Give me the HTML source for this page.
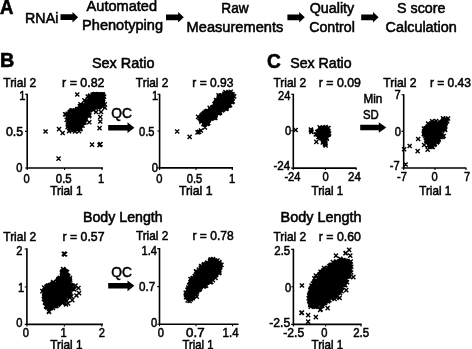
<!DOCTYPE html>
<html><head><meta charset="utf-8"><title>Figure</title>
<style>html,body{margin:0;padding:0;background:#fff;overflow:hidden}svg{display:block;filter:grayscale(1)}text{font-family:"Liberation Sans",Arial,Helvetica,sans-serif;fill:#000;stroke:#000;stroke-width:.55px}.b{font-weight:bold;stroke-width:.6px}</style></head><body>
<svg width="472" height="349" viewBox="0 0 472 349">
<rect width="472" height="349" fill="#fff"/>
<text transform="translate(0.10 14.20) scale(0.928 1)" font-size="20" class="b">A</text>
<text transform="translate(0.10 67.40) scale(0.990 1)" font-size="20" class="b">B</text>
<text transform="translate(266.90 67.60) scale(0.956 1)" font-size="20" class="b">C</text>
<text transform="translate(25.08 22.90) scale(0.969 1)" font-size="14.7">RNAi</text>
<polygon points="60.5,14.35 72.5,14.35 72.5,12.0 78.1,17.2 72.5,22.4 72.5,20.05 60.5,20.05" fill="#000"/>
<text transform="translate(86.57 11.40) scale(0.992 1)" font-size="14.7">Automated</text>
<text transform="translate(82.07 29.90) scale(0.992 1)" font-size="14.7">Phenotyping</text>
<polygon points="166,14.450000000000001 178.20000000000002,14.450000000000001 178.20000000000002,12.100000000000001 183.8,17.3 178.20000000000002,22.5 178.20000000000002,20.150000000000002 166,20.150000000000002" fill="#000"/>
<text transform="translate(221.28 13.10) scale(0.932 1)" font-size="14.7">Raw</text>
<text transform="translate(186.58 31.80) scale(0.995 1)" font-size="14.7">Measurements</text>
<polygon points="287.4,14.450000000000001 299.2,14.450000000000001 299.2,12.100000000000001 304.8,17.3 299.2,22.5 299.2,20.150000000000002 287.4,20.150000000000002" fill="#000"/>
<text transform="translate(309.67 13.30) scale(0.974 1)" font-size="14.7">Quality</text>
<text transform="translate(309.17 31.80) scale(0.965 1)" font-size="14.7">Control</text>
<polygon points="361.2,14.450000000000001 373.0,14.450000000000001 373.0,12.100000000000001 378.6,17.3 373.0,22.5 373.0,20.150000000000002 361.2,20.150000000000002" fill="#000"/>
<text transform="translate(397.07 13.30) scale(0.972 1)" font-size="14.7">S score</text>
<text transform="translate(385.58 31.80) scale(0.980 1)" font-size="14.7">Calculation</text>
<text transform="translate(91.88 68.30) scale(1.009 1)" font-size="14.3">Sex Ratio</text>
<text transform="translate(290.27 68.30) scale(0.991 1)" font-size="14.3">Sex Ratio</text>
<text transform="translate(82.97 222.20) scale(0.993 1)" font-size="14.3">Body Length</text>
<text transform="translate(280.57 222.30) scale(1.007 1)" font-size="14.3">Body Length</text>
<text transform="translate(3.27 86.90) scale(0.901 1)" font-size="13.3">Trial 2</text>
<text transform="translate(135.87 86.90) scale(0.893 1)" font-size="13.3">Trial 2</text>
<text transform="translate(273.48 86.90) scale(0.898 1)" font-size="13.3">Trial 2</text>
<text transform="translate(383.27 86.60) scale(0.915 1)" font-size="13.3">Trial 2</text>
<text transform="translate(3.27 240.60) scale(0.901 1)" font-size="13.3">Trial 2</text>
<text transform="translate(135.88 240.40) scale(0.887 1)" font-size="13.3">Trial 2</text>
<text transform="translate(273.48 240.60) scale(0.898 1)" font-size="13.3">Trial 2</text>
<text transform="translate(62.07 86.90) scale(0.934 1)" font-size="13.3">r = 0.82</text>
<text transform="translate(192.28 86.80) scale(0.905 1)" font-size="13.3">r = 0.93</text>
<text transform="translate(318.78 86.90) scale(0.927 1)" font-size="13.3">r = 0.09</text>
<text transform="translate(429.88 86.60) scale(0.905 1)" font-size="13.3">r = 0.43</text>
<text transform="translate(62.57 240.60) scale(0.923 1)" font-size="13.3">r = 0.57</text>
<text transform="translate(192.47 240.40) scale(0.907 1)" font-size="13.3">r = 0.78</text>
<text transform="translate(318.78 240.60) scale(0.927 1)" font-size="13.3">r = 0.60</text>
<text transform="translate(111.28 117.70) scale(0.943 1)" font-size="14.6">QC</text>
<polygon points="108.2,124.95 127.5,124.95 127.5,122.3 134.4,127.7 127.5,133.1 127.5,130.45 108.2,130.45" fill="#000"/>
<text transform="translate(111.28 277.40) scale(0.943 1)" font-size="14.6">QC</text>
<polygon points="108.2,283.05 127.5,283.05 127.5,280.40000000000003 134.4,285.8 127.5,291.2 127.5,288.55 108.2,288.55" fill="#000"/>
<text transform="translate(363.47 102.60) scale(0.873 1)" font-size="13.4">Min</text>
<text transform="translate(362.94 118.60) scale(0.850 1)" font-size="13.4">SD</text>
<polygon points="360.2,124.65 378.8,124.65 378.8,122.2 386.3,127.5 378.8,132.8 378.8,130.35 360.2,130.35" fill="#000"/>
<path d="M27.2 93.7V168H103" fill="none" stroke="#000" stroke-width="1.6"/>
<path d="M27.2 168v2M64.6 168v2M102 168v2M27.2 94.3h-2.2M27.2 131.4h-2.2M27.2 168h-2.2" stroke="#000" stroke-width="1.1"/>
<text transform="translate(19.15 100.29) scale(0.850 1)" font-size="13.1">1</text>
<text transform="translate(5.88 136.09) scale(0.947 1)" font-size="13.1">0.5</text>
<text transform="translate(16.35 172.19) scale(0.850 1)" font-size="13.1">0</text>
<text transform="translate(23.60 182.90) scale(0.850 1)" font-size="13.1">0</text>
<text transform="translate(55.77 182.90) scale(0.876 1)" font-size="13.1">0.5</text>
<text transform="translate(98.00 182.90) scale(0.850 1)" font-size="13.1">1</text>
<text transform="translate(50.17 194.70) scale(0.890 1)" font-size="13.3">Trial 1</text>
<polygon points="102.4,94.5 89.6,95.4 87.4,98.4 85.1,102.5 81.7,107.5 78.9,109.7 72.5,109.9 68.6,112.9 67.9,118.6 69.6,124.6 71.1,128.6 77.2,128.6 82.1,127.9 84.4,122.5 85.5,115.4 88.4,111.6 94.5,109.4 101.6,109.1" fill="#000"/>
<rect x="91.5" y="92.1" width="13.6" height="14.5" fill="#000"/>
<path d="M83.1 113.5l4.1 4.1m-4.1 0l4.1 -4.1M66.2 122.4l4.1 4.1m-4.1 0l4.1 -4.1M80.4 123.7l4.1 4.1m-4.1 0l4.1 -4.1M83.6 115.6l4.1 4.1m-4.1 0l4.1 -4.1M82.8 116.5l4.1 4.1m-4.1 0l4.1 -4.1M65.5 115.2l4.1 4.1m-4.1 0l4.1 -4.1M66.2 113.3l4.1 4.1m-4.1 0l4.1 -4.1M70.5 128.0l4.1 4.1m-4.1 0l4.1 -4.1M99.7 98.2l4.1 4.1m-4.1 0l4.1 -4.1M82.1 119.2l4.1 4.1m-4.1 0l4.1 -4.1M65.6 111.8l4.1 4.1m-4.1 0l4.1 -4.1M65.8 115.6l4.1 4.1m-4.1 0l4.1 -4.1M92.0 105.5l4.1 4.1m-4.1 0l4.1 -4.1M80.4 123.5l4.1 4.1m-4.1 0l4.1 -4.1M65.9 120.0l4.1 4.1m-4.1 0l4.1 -4.1M68.1 109.9l4.1 4.1m-4.1 0l4.1 -4.1M88.0 107.9l4.1 4.1m-4.1 0l4.1 -4.1M99.3 93.5l4.1 4.1m-4.1 0l4.1 -4.1M75.5 126.4l4.1 4.1m-4.1 0l4.1 -4.1M97.2 104.0l4.1 4.1m-4.1 0l4.1 -4.1M95.3 92.6l4.1 4.1m-4.1 0l4.1 -4.1M101.0 93.5l4.1 4.1m-4.1 0l4.1 -4.1M85.8 98.1l4.1 4.1m-4.1 0l4.1 -4.1M85.3 109.6l4.1 4.1m-4.1 0l4.1 -4.1M90.5 92.7l4.1 4.1m-4.1 0l4.1 -4.1M73.5 108.9l4.1 4.1m-4.1 0l4.1 -4.1M81.8 102.7l4.1 4.1m-4.1 0l4.1 -4.1M100.0 95.2l4.1 4.1m-4.1 0l4.1 -4.1M66.8 119.2l4.1 4.1m-4.1 0l4.1 -4.1M67.5 110.4l4.1 4.1m-4.1 0l4.1 -4.1M77.8 106.5l4.1 4.1m-4.1 0l4.1 -4.1M75.3 126.9l4.1 4.1m-4.1 0l4.1 -4.1M82.9 117.4l4.1 4.1m-4.1 0l4.1 -4.1M84.9 110.6l4.1 4.1m-4.1 0l4.1 -4.1M100.1 93.9l4.1 4.1m-4.1 0l4.1 -4.1M81.3 120.6l4.1 4.1m-4.1 0l4.1 -4.1M69.9 108.2l4.1 4.1m-4.1 0l4.1 -4.1M88.0 106.2l4.1 4.1m-4.1 0l4.1 -4.1M86.8 110.2l4.1 4.1m-4.1 0l4.1 -4.1M73.0 126.4l4.1 4.1m-4.1 0l4.1 -4.1M91.8 92.9l4.1 4.1m-4.1 0l4.1 -4.1M72.0 127.7l4.1 4.1m-4.1 0l4.1 -4.1M72.7 126.2l4.1 4.1m-4.1 0l4.1 -4.1M95.3 93.1l4.1 4.1m-4.1 0l4.1 -4.1M69.0 108.9l4.1 4.1m-4.1 0l4.1 -4.1M69.4 109.8l4.1 4.1m-4.1 0l4.1 -4.1M83.9 113.9l4.1 4.1m-4.1 0l4.1 -4.1M78.3 125.9l4.1 4.1m-4.1 0l4.1 -4.1M92.9 92.1l4.1 4.1m-4.1 0l4.1 -4.1M87.8 108.2l4.1 4.1m-4.1 0l4.1 -4.1M67.2 125.7l4.1 4.1m-4.1 0l4.1 -4.1M87.8 94.1l4.1 4.1m-4.1 0l4.1 -4.1M66.1 117.0l4.1 4.1m-4.1 0l4.1 -4.1M95.4 104.8l4.1 4.1m-4.1 0l4.1 -4.1M79.9 104.8l4.1 4.1m-4.1 0l4.1 -4.1M94.0 93.1l4.1 4.1m-4.1 0l4.1 -4.1M78.6 105.5l4.1 4.1m-4.1 0l4.1 -4.1M84.6 112.7l4.1 4.1m-4.1 0l4.1 -4.1M95.1 92.6l4.1 4.1m-4.1 0l4.1 -4.1M66.0 115.4l4.1 4.1m-4.1 0l4.1 -4.1M86.6 99.0l4.1 4.1m-4.1 0l4.1 -4.1M99.6 103.7l4.1 4.1m-4.1 0l4.1 -4.1M99.7 93.7l4.1 4.1m-4.1 0l4.1 -4.1M84.6 111.0l4.1 4.1m-4.1 0l4.1 -4.1M81.5 118.6l4.1 4.1m-4.1 0l4.1 -4.1M96.0 93.7l4.1 4.1m-4.1 0l4.1 -4.1M83.3 115.9l4.1 4.1m-4.1 0l4.1 -4.1M70.5 127.8l4.1 4.1m-4.1 0l4.1 -4.1M75.9 127.1l4.1 4.1m-4.1 0l4.1 -4.1M68.0 126.1l4.1 4.1m-4.1 0l4.1 -4.1M84.6 112.4l4.1 4.1m-4.1 0l4.1 -4.1M85.2 100.6l4.1 4.1m-4.1 0l4.1 -4.1M67.5 123.0l4.1 4.1m-4.1 0l4.1 -4.1M70.6 108.7l4.1 4.1m-4.1 0l4.1 -4.1M83.6 100.6l4.1 4.1m-4.1 0l4.1 -4.1M64.7 117.8l4.1 4.1m-4.1 0l4.1 -4.1M83.9 99.6l4.1 4.1m-4.1 0l4.1 -4.1M66.5 121.7l4.1 4.1m-4.1 0l4.1 -4.1M67.6 111.5l4.1 4.1m-4.1 0l4.1 -4.1M78.6 104.3l4.1 4.1m-4.1 0l4.1 -4.1M74.5 126.9l4.1 4.1m-4.1 0l4.1 -4.1M96.5 104.2l4.1 4.1m-4.1 0l4.1 -4.1M81.2 120.0l4.1 4.1m-4.1 0l4.1 -4.1M78.1 127.1l4.1 4.1m-4.1 0l4.1 -4.1M101.1 97.0l4.1 4.1m-4.1 0l4.1 -4.1M80.4 120.9l4.1 4.1m-4.1 0l4.1 -4.1M72.1 109.6l4.1 4.1m-4.1 0l4.1 -4.1M85.6 111.7l4.1 4.1m-4.1 0l4.1 -4.1M66.1 122.8l4.1 4.1m-4.1 0l4.1 -4.1M82.4 120.4l4.1 4.1m-4.1 0l4.1 -4.1M81.0 119.8l4.1 4.1m-4.1 0l4.1 -4.1M84.9 99.7l4.1 4.1m-4.1 0l4.1 -4.1M71.2 108.7l4.1 4.1m-4.1 0l4.1 -4.1M75.0 107.9l4.1 4.1m-4.1 0l4.1 -4.1M78.5 126.9l4.1 4.1m-4.1 0l4.1 -4.1M100.5 104.4l4.1 4.1m-4.1 0l4.1 -4.1M75.2 107.0l4.1 4.1m-4.1 0l4.1 -4.1M79.0 105.5l4.1 4.1m-4.1 0l4.1 -4.1M88.2 93.6l4.1 4.1m-4.1 0l4.1 -4.1M79.9 105.7l4.1 4.1m-4.1 0l4.1 -4.1M76.4 106.9l4.1 4.1m-4.1 0l4.1 -4.1M78.4 104.6l4.1 4.1m-4.1 0l4.1 -4.1M86.3 108.8l4.1 4.1m-4.1 0l4.1 -4.1M70.1 108.8l4.1 4.1m-4.1 0l4.1 -4.1M68.1 110.3l4.1 4.1m-4.1 0l4.1 -4.1M82.5 116.0l4.1 4.1m-4.1 0l4.1 -4.1M97.8 92.2l4.1 4.1m-4.1 0l4.1 -4.1M90.4 106.8l4.1 4.1m-4.1 0l4.1 -4.1M88.1 105.9l4.1 4.1m-4.1 0l4.1 -4.1M100.4 100.1l4.1 4.1m-4.1 0l4.1 -4.1M80.9 112.4l4.1 4.1m-4.1 0l4.1 -4.1M70.0 110.5l4.1 4.1m-4.1 0l4.1 -4.1M94.1 100.8l4.1 4.1m-4.1 0l4.1 -4.1M94.8 97.1l4.1 4.1m-4.1 0l4.1 -4.1M85.2 107.9l4.1 4.1m-4.1 0l4.1 -4.1M70.3 119.3l4.1 4.1m-4.1 0l4.1 -4.1M67.9 115.7l4.1 4.1m-4.1 0l4.1 -4.1M74.9 125.4l4.1 4.1m-4.1 0l4.1 -4.1M93.8 103.2l4.1 4.1m-4.1 0l4.1 -4.1M72.4 114.0l4.1 4.1m-4.1 0l4.1 -4.1M77.6 108.1l4.1 4.1m-4.1 0l4.1 -4.1M72.2 118.2l4.1 4.1m-4.1 0l4.1 -4.1M73.0 122.9l4.1 4.1m-4.1 0l4.1 -4.1M86.7 101.8l4.1 4.1m-4.1 0l4.1 -4.1M69.7 118.8l4.1 4.1m-4.1 0l4.1 -4.1M87.4 101.2l4.1 4.1m-4.1 0l4.1 -4.1M77.2 125.6l4.1 4.1m-4.1 0l4.1 -4.1M76.8 117.4l4.1 4.1m-4.1 0l4.1 -4.1M79.4 121.6l4.1 4.1m-4.1 0l4.1 -4.1M87.9 105.3l4.1 4.1m-4.1 0l4.1 -4.1M74.7 117.1l4.1 4.1m-4.1 0l4.1 -4.1M75.8 116.6l4.1 4.1m-4.1 0l4.1 -4.1M86.2 102.7l4.1 4.1m-4.1 0l4.1 -4.1M75.3 123.5l4.1 4.1m-4.1 0l4.1 -4.1M75.1 121.6l4.1 4.1m-4.1 0l4.1 -4.1M96.2 99.5l4.1 4.1m-4.1 0l4.1 -4.1M90.3 98.0l4.1 4.1m-4.1 0l4.1 -4.1M91.5 97.2l4.1 4.1m-4.1 0l4.1 -4.1M78.5 121.6l4.1 4.1m-4.1 0l4.1 -4.1M77.8 112.7l4.1 4.1m-4.1 0l4.1 -4.1M88.9 98.2l4.1 4.1m-4.1 0l4.1 -4.1M71.2 126.0l4.1 4.1m-4.1 0l4.1 -4.1M94.9 96.9l4.1 4.1m-4.1 0l4.1 -4.1M76.1 121.5l4.1 4.1m-4.1 0l4.1 -4.1M71.5 111.1l4.1 4.1m-4.1 0l4.1 -4.1M74.3 119.1l4.1 4.1m-4.1 0l4.1 -4.1M71.0 124.0l4.1 4.1m-4.1 0l4.1 -4.1M84.3 110.1l4.1 4.1m-4.1 0l4.1 -4.1M78.8 122.0l4.1 4.1m-4.1 0l4.1 -4.1M84.4 106.6l4.1 4.1m-4.1 0l4.1 -4.1M70.3 114.7l4.1 4.1m-4.1 0l4.1 -4.1M90.4 102.9l4.1 4.1m-4.1 0l4.1 -4.1M76.9 114.8l4.1 4.1m-4.1 0l4.1 -4.1M84.0 107.5l4.1 4.1m-4.1 0l4.1 -4.1M70.8 115.2l4.1 4.1m-4.1 0l4.1 -4.1M97.2 99.3l4.1 4.1m-4.1 0l4.1 -4.1M99.1 102.7l4.1 4.1m-4.1 0l4.1 -4.1M98.5 95.4l4.1 4.1m-4.1 0l4.1 -4.1M72.2 119.0l4.1 4.1m-4.1 0l4.1 -4.1M94.5 95.1l4.1 4.1m-4.1 0l4.1 -4.1M78.9 117.4l4.1 4.1m-4.1 0l4.1 -4.1M75.8 108.7l4.1 4.1m-4.1 0l4.1 -4.1M83.4 107.2l4.1 4.1m-4.1 0l4.1 -4.1M76.4 108.8l4.1 4.1m-4.1 0l4.1 -4.1M89.5 103.5l4.1 4.1m-4.1 0l4.1 -4.1M84.1 105.6l4.1 4.1m-4.1 0l4.1 -4.1M84.8 110.3l4.1 4.1m-4.1 0l4.1 -4.1M74.0 118.6l4.1 4.1m-4.1 0l4.1 -4.1M68.9 120.2l4.1 4.1m-4.1 0l4.1 -4.1M79.9 109.1l4.1 4.1m-4.1 0l4.1 -4.1M85.7 94.4l4.1 4.1m-4.1 0l4.1 -4.1M96.5 105.4l4.1 4.1m-4.1 0l4.1 -4.1M63.1 112.2l4.1 4.1m-4.1 0l4.1 -4.1M72.9 129.3l4.1 4.1m-4.1 0l4.1 -4.1M102.8 105.7l4.1 4.1m-4.1 0l4.1 -4.1M77.8 104.3l4.1 4.1m-4.1 0l4.1 -4.1M78.5 102.2l4.1 4.1m-4.1 0l4.1 -4.1M102.7 102.2l4.1 4.1m-4.1 0l4.1 -4.1M65.6 124.8l4.1 4.1m-4.1 0l4.1 -4.1M91.2 107.9l4.1 4.1m-4.1 0l4.1 -4.1M87.3 113.2l4.1 4.1m-4.1 0l4.1 -4.1M87.0 114.2l4.1 4.1m-4.1 0l4.1 -4.1M102.0 94.7l4.1 4.1m-4.1 0l4.1 -4.1M82.4 98.3l4.1 4.1m-4.1 0l4.1 -4.1M63.8 112.4l4.1 4.1m-4.1 0l4.1 -4.1M43.5 129.5l4.1 4.1m-4.1 0l4.1 -4.1M57.0 127.1l4.1 4.1m-4.1 0l4.1 -4.1M60.6 131.0l4.1 4.1m-4.1 0l4.1 -4.1M56.5 156.6l4.1 4.1m-4.1 0l4.1 -4.1M90.0 142.6l4.1 4.1m-4.1 0l4.1 -4.1M98.0 142.6l4.1 4.1m-4.1 0l4.1 -4.1M98.5 142.1l4.1 4.1m-4.1 0l4.1 -4.1M97.5 143.0l4.1 4.1m-4.1 0l4.1 -4.1M75.2 92.4l4.1 4.1m-4.1 0l4.1 -4.1M87.2 120.2l4.1 4.1m-4.1 0l4.1 -4.1M98.2 115.0l4.1 4.1m-4.1 0l4.1 -4.1M98.2 119.5l4.1 4.1m-4.1 0l4.1 -4.1M97.5 126.1l4.1 4.1m-4.1 0l4.1 -4.1M67.0 129.1l4.1 4.1m-4.1 0l4.1 -4.1M77.0 129.1l4.1 4.1m-4.1 0l4.1 -4.1M94.0 110.0l4.1 4.1m-4.1 0l4.1 -4.1M99.0 110.0l4.1 4.1m-4.1 0l4.1 -4.1" stroke="#000" stroke-width="1.4" fill="none"/>
<path d="M159.6 93.7V167.9H233" fill="none" stroke="#000" stroke-width="1.6"/>
<path d="M159.6 167.9v2M196 167.9v2M232.3 167.9v2M159.6 94.3h-2.2M159.6 131h-2.2M159.6 167.9h-2.2" stroke="#000" stroke-width="1.1"/>
<text transform="translate(151.90 100.49) scale(0.850 1)" font-size="13.1">1</text>
<text transform="translate(138.96 135.69) scale(0.850 1)" font-size="13.1">0.5</text>
<text transform="translate(151.85 171.89) scale(0.850 1)" font-size="13.1">0</text>
<text transform="translate(156.20 183.20) scale(0.850 1)" font-size="13.1">0</text>
<text transform="translate(186.76 183.20) scale(0.850 1)" font-size="13.1">0.5</text>
<text transform="translate(229.05 183.20) scale(0.850 1)" font-size="13.1">1</text>
<text transform="translate(178.88 194.70) scale(0.926 1)" font-size="13.3">Trial 1</text>
<polygon points="232.0,94.2 222.3,95.1 217.2,98.5 214.9,102.6 214.2,108.4 209.6,109.2 203.4,113.0 200.0,116.9 201.7,120.7 205.1,123.1 210.2,122.2 214.6,115.4 218.8,111.8 225.9,109.1 231.3,104.1" fill="#000"/>
<path d="M224.6 106.5l4.1 4.1m-4.1 0l4.1 -4.1M202.6 111.3l4.1 4.1m-4.1 0l4.1 -4.1M202.2 112.6l4.1 4.1m-4.1 0l4.1 -4.1M210.3 105.4l4.1 4.1m-4.1 0l4.1 -4.1M203.7 109.6l4.1 4.1m-4.1 0l4.1 -4.1M205.5 119.6l4.1 4.1m-4.1 0l4.1 -4.1M222.9 92.6l4.1 4.1m-4.1 0l4.1 -4.1M201.1 111.9l4.1 4.1m-4.1 0l4.1 -4.1M199.0 116.7l4.1 4.1m-4.1 0l4.1 -4.1M214.2 99.8l4.1 4.1m-4.1 0l4.1 -4.1M227.0 93.3l4.1 4.1m-4.1 0l4.1 -4.1M211.1 105.2l4.1 4.1m-4.1 0l4.1 -4.1M223.2 106.4l4.1 4.1m-4.1 0l4.1 -4.1M217.8 109.9l4.1 4.1m-4.1 0l4.1 -4.1M224.9 104.3l4.1 4.1m-4.1 0l4.1 -4.1M227.3 103.5l4.1 4.1m-4.1 0l4.1 -4.1M229.5 92.3l4.1 4.1m-4.1 0l4.1 -4.1M224.4 104.8l4.1 4.1m-4.1 0l4.1 -4.1M211.7 104.7l4.1 4.1m-4.1 0l4.1 -4.1M222.6 92.2l4.1 4.1m-4.1 0l4.1 -4.1M199.1 118.3l4.1 4.1m-4.1 0l4.1 -4.1M220.0 108.5l4.1 4.1m-4.1 0l4.1 -4.1M199.4 119.6l4.1 4.1m-4.1 0l4.1 -4.1M213.5 113.3l4.1 4.1m-4.1 0l4.1 -4.1M209.5 116.4l4.1 4.1m-4.1 0l4.1 -4.1M198.7 115.1l4.1 4.1m-4.1 0l4.1 -4.1M223.3 93.2l4.1 4.1m-4.1 0l4.1 -4.1M206.4 118.7l4.1 4.1m-4.1 0l4.1 -4.1M225.3 93.1l4.1 4.1m-4.1 0l4.1 -4.1M217.9 93.9l4.1 4.1m-4.1 0l4.1 -4.1M215.1 98.4l4.1 4.1m-4.1 0l4.1 -4.1M208.5 116.7l4.1 4.1m-4.1 0l4.1 -4.1M228.9 93.2l4.1 4.1m-4.1 0l4.1 -4.1M227.8 91.9l4.1 4.1m-4.1 0l4.1 -4.1M214.7 101.9l4.1 4.1m-4.1 0l4.1 -4.1M218.0 110.7l4.1 4.1m-4.1 0l4.1 -4.1M230.1 92.7l4.1 4.1m-4.1 0l4.1 -4.1M226.3 103.7l4.1 4.1m-4.1 0l4.1 -4.1M204.7 109.8l4.1 4.1m-4.1 0l4.1 -4.1M214.7 101.2l4.1 4.1m-4.1 0l4.1 -4.1M197.7 115.9l4.1 4.1m-4.1 0l4.1 -4.1M229.4 94.7l4.1 4.1m-4.1 0l4.1 -4.1M200.1 114.2l4.1 4.1m-4.1 0l4.1 -4.1M230.6 96.3l4.1 4.1m-4.1 0l4.1 -4.1M199.9 112.9l4.1 4.1m-4.1 0l4.1 -4.1M205.1 121.9l4.1 4.1m-4.1 0l4.1 -4.1M230.6 92.5l4.1 4.1m-4.1 0l4.1 -4.1M202.0 122.0l4.1 4.1m-4.1 0l4.1 -4.1M213.7 112.1l4.1 4.1m-4.1 0l4.1 -4.1M229.4 97.7l4.1 4.1m-4.1 0l4.1 -4.1M216.9 95.1l4.1 4.1m-4.1 0l4.1 -4.1M230.7 99.5l4.1 4.1m-4.1 0l4.1 -4.1M207.9 108.9l4.1 4.1m-4.1 0l4.1 -4.1M214.2 102.7l4.1 4.1m-4.1 0l4.1 -4.1M204.9 109.4l4.1 4.1m-4.1 0l4.1 -4.1M204.4 120.6l4.1 4.1m-4.1 0l4.1 -4.1M213.8 104.3l4.1 4.1m-4.1 0l4.1 -4.1M213.8 101.5l4.1 4.1m-4.1 0l4.1 -4.1M204.0 121.2l4.1 4.1m-4.1 0l4.1 -4.1M201.8 113.5l4.1 4.1m-4.1 0l4.1 -4.1M218.4 94.0l4.1 4.1m-4.1 0l4.1 -4.1M222.3 91.8l4.1 4.1m-4.1 0l4.1 -4.1M221.1 107.4l4.1 4.1m-4.1 0l4.1 -4.1M201.8 111.9l4.1 4.1m-4.1 0l4.1 -4.1M229.3 99.7l4.1 4.1m-4.1 0l4.1 -4.1M208.2 107.8l4.1 4.1m-4.1 0l4.1 -4.1M229.0 98.3l4.1 4.1m-4.1 0l4.1 -4.1M223.8 91.7l4.1 4.1m-4.1 0l4.1 -4.1M228.4 91.7l4.1 4.1m-4.1 0l4.1 -4.1M214.0 103.8l4.1 4.1m-4.1 0l4.1 -4.1M212.0 105.9l4.1 4.1m-4.1 0l4.1 -4.1M202.2 121.0l4.1 4.1m-4.1 0l4.1 -4.1M205.2 109.1l4.1 4.1m-4.1 0l4.1 -4.1M216.4 110.6l4.1 4.1m-4.1 0l4.1 -4.1M203.2 110.9l4.1 4.1m-4.1 0l4.1 -4.1M205.7 108.9l4.1 4.1m-4.1 0l4.1 -4.1M214.1 100.4l4.1 4.1m-4.1 0l4.1 -4.1M221.0 106.9l4.1 4.1m-4.1 0l4.1 -4.1M214.3 100.3l4.1 4.1m-4.1 0l4.1 -4.1M219.0 93.5l4.1 4.1m-4.1 0l4.1 -4.1M211.3 115.8l4.1 4.1m-4.1 0l4.1 -4.1M217.2 109.7l4.1 4.1m-4.1 0l4.1 -4.1M215.4 101.3l4.1 4.1m-4.1 0l4.1 -4.1M216.6 111.3l4.1 4.1m-4.1 0l4.1 -4.1M197.5 115.8l4.1 4.1m-4.1 0l4.1 -4.1M223.5 91.7l4.1 4.1m-4.1 0l4.1 -4.1M221.9 106.6l4.1 4.1m-4.1 0l4.1 -4.1M209.3 107.9l4.1 4.1m-4.1 0l4.1 -4.1M216.2 97.9l4.1 4.1m-4.1 0l4.1 -4.1M228.0 102.8l4.1 4.1m-4.1 0l4.1 -4.1M202.4 111.7l4.1 4.1m-4.1 0l4.1 -4.1M214.0 103.0l4.1 4.1m-4.1 0l4.1 -4.1M230.4 94.3l4.1 4.1m-4.1 0l4.1 -4.1M224.3 91.9l4.1 4.1m-4.1 0l4.1 -4.1M213.0 114.5l4.1 4.1m-4.1 0l4.1 -4.1M222.9 105.6l4.1 4.1m-4.1 0l4.1 -4.1M202.4 110.8l4.1 4.1m-4.1 0l4.1 -4.1M204.7 110.3l4.1 4.1m-4.1 0l4.1 -4.1M213.1 103.4l4.1 4.1m-4.1 0l4.1 -4.1M206.2 121.1l4.1 4.1m-4.1 0l4.1 -4.1M202.7 111.7l4.1 4.1m-4.1 0l4.1 -4.1M199.6 113.8l4.1 4.1m-4.1 0l4.1 -4.1M217.4 110.7l4.1 4.1m-4.1 0l4.1 -4.1M198.6 117.1l4.1 4.1m-4.1 0l4.1 -4.1M229.7 100.1l4.1 4.1m-4.1 0l4.1 -4.1M228.6 92.6l4.1 4.1m-4.1 0l4.1 -4.1M211.4 105.7l4.1 4.1m-4.1 0l4.1 -4.1M220.4 93.4l4.1 4.1m-4.1 0l4.1 -4.1M226.4 102.7l4.1 4.1m-4.1 0l4.1 -4.1M230.3 96.9l4.1 4.1m-4.1 0l4.1 -4.1M203.9 117.1l4.1 4.1m-4.1 0l4.1 -4.1M224.9 94.9l4.1 4.1m-4.1 0l4.1 -4.1M218.6 99.3l4.1 4.1m-4.1 0l4.1 -4.1M221.0 105.7l4.1 4.1m-4.1 0l4.1 -4.1M222.7 102.1l4.1 4.1m-4.1 0l4.1 -4.1M207.9 113.8l4.1 4.1m-4.1 0l4.1 -4.1M205.6 119.0l4.1 4.1m-4.1 0l4.1 -4.1M220.4 105.3l4.1 4.1m-4.1 0l4.1 -4.1M205.9 113.5l4.1 4.1m-4.1 0l4.1 -4.1M220.2 98.1l4.1 4.1m-4.1 0l4.1 -4.1M228.7 98.4l4.1 4.1m-4.1 0l4.1 -4.1M217.1 108.4l4.1 4.1m-4.1 0l4.1 -4.1M208.9 114.5l4.1 4.1m-4.1 0l4.1 -4.1M220.1 101.5l4.1 4.1m-4.1 0l4.1 -4.1M210.0 112.2l4.1 4.1m-4.1 0l4.1 -4.1M204.4 117.5l4.1 4.1m-4.1 0l4.1 -4.1M215.1 108.0l4.1 4.1m-4.1 0l4.1 -4.1M224.2 98.2l4.1 4.1m-4.1 0l4.1 -4.1M215.9 105.5l4.1 4.1m-4.1 0l4.1 -4.1M227.0 95.0l4.1 4.1m-4.1 0l4.1 -4.1M210.2 110.7l4.1 4.1m-4.1 0l4.1 -4.1M200.6 117.7l4.1 4.1m-4.1 0l4.1 -4.1M222.8 98.6l4.1 4.1m-4.1 0l4.1 -4.1M215.5 103.4l4.1 4.1m-4.1 0l4.1 -4.1M208.6 110.2l4.1 4.1m-4.1 0l4.1 -4.1M205.6 113.0l4.1 4.1m-4.1 0l4.1 -4.1M226.3 101.0l4.1 4.1m-4.1 0l4.1 -4.1M206.8 117.8l4.1 4.1m-4.1 0l4.1 -4.1M222.7 104.1l4.1 4.1m-4.1 0l4.1 -4.1M223.2 102.7l4.1 4.1m-4.1 0l4.1 -4.1M217.2 107.5l4.1 4.1m-4.1 0l4.1 -4.1M209.5 109.4l4.1 4.1m-4.1 0l4.1 -4.1M226.7 102.0l4.1 4.1m-4.1 0l4.1 -4.1M216.9 106.2l4.1 4.1m-4.1 0l4.1 -4.1M221.2 97.7l4.1 4.1m-4.1 0l4.1 -4.1M204.7 114.7l4.1 4.1m-4.1 0l4.1 -4.1M216.5 98.5l4.1 4.1m-4.1 0l4.1 -4.1M209.1 114.3l4.1 4.1m-4.1 0l4.1 -4.1M211.2 110.9l4.1 4.1m-4.1 0l4.1 -4.1M216.3 108.6l4.1 4.1m-4.1 0l4.1 -4.1M224.5 97.2l4.1 4.1m-4.1 0l4.1 -4.1M220.9 102.2l4.1 4.1m-4.1 0l4.1 -4.1M205.8 119.1l4.1 4.1m-4.1 0l4.1 -4.1M222.3 98.8l4.1 4.1m-4.1 0l4.1 -4.1M227.9 95.2l4.1 4.1m-4.1 0l4.1 -4.1M217.8 108.3l4.1 4.1m-4.1 0l4.1 -4.1M224.1 98.6l4.1 4.1m-4.1 0l4.1 -4.1M208.8 114.7l4.1 4.1m-4.1 0l4.1 -4.1M216.2 101.7l4.1 4.1m-4.1 0l4.1 -4.1M221.5 104.0l4.1 4.1m-4.1 0l4.1 -4.1M202.4 122.1l4.1 4.1m-4.1 0l4.1 -4.1M212.4 101.9l4.1 4.1m-4.1 0l4.1 -4.1M216.5 93.3l4.1 4.1m-4.1 0l4.1 -4.1M225.9 90.9l4.1 4.1m-4.1 0l4.1 -4.1M207.6 105.8l4.1 4.1m-4.1 0l4.1 -4.1M232.1 94.3l4.1 4.1m-4.1 0l4.1 -4.1M201.3 122.0l4.1 4.1m-4.1 0l4.1 -4.1M227.1 90.5l4.1 4.1m-4.1 0l4.1 -4.1M213.4 100.9l4.1 4.1m-4.1 0l4.1 -4.1M224.2 107.0l4.1 4.1m-4.1 0l4.1 -4.1M228.7 89.7l4.1 4.1m-4.1 0l4.1 -4.1M213.2 115.8l4.1 4.1m-4.1 0l4.1 -4.1M196.1 114.8l4.1 4.1m-4.1 0l4.1 -4.1M223.4 90.1l4.1 4.1m-4.1 0l4.1 -4.1M214.1 98.1l4.1 4.1m-4.1 0l4.1 -4.1M175.1 129.5l4.1 4.1m-4.1 0l4.1 -4.1M187.6 134.8l4.1 4.1m-4.1 0l4.1 -4.1M195.5 130.3l4.1 4.1m-4.1 0l4.1 -4.1M198.9 128.4l4.1 4.1m-4.1 0l4.1 -4.1M202.9 125.5l4.1 4.1m-4.1 0l4.1 -4.1M197.1 129.8l4.1 4.1m-4.1 0l4.1 -4.1" stroke="#000" stroke-width="1.4" fill="none"/>
<path d="M26.9 248.3V324.4H103" fill="none" stroke="#000" stroke-width="1.6"/>
<path d="M26.9 324.4v2M64.4 324.4v2M101.8 324.4v2M26.9 249h-2.2M26.9 287h-2.2M26.9 324.4h-2.2" stroke="#000" stroke-width="1.1"/>
<text transform="translate(16.35 255.49) scale(0.850 1)" font-size="13.1">2</text>
<text transform="translate(18.05 291.99) scale(0.850 1)" font-size="13.1">1</text>
<text transform="translate(16.35 327.29) scale(0.850 1)" font-size="13.1">0</text>
<text transform="translate(22.70 337.20) scale(0.850 1)" font-size="13.1">0</text>
<text transform="translate(60.50 337.20) scale(0.850 1)" font-size="13.1">1</text>
<text transform="translate(98.70 337.20) scale(0.850 1)" font-size="13.1">2</text>
<text transform="translate(50.17 349.00) scale(0.890 1)" font-size="13.3">Trial 1</text>
<polygon points="62.7,271.1 59.0,277.6 57.1,283.7 50.2,285.1 45.6,289.1 45.8,298.9 46.6,305.2 50.9,308.3 58.2,303.6 63.9,299.6 68.0,295.5 70.6,290.3 70.4,285.3 68.5,279.8 67.0,274.0" fill="#000"/>
<path d="M67.7 292.5l4.1 4.1m-4.1 0l4.1 -4.1M66.7 293.0l4.1 4.1m-4.1 0l4.1 -4.1M68.8 283.0l4.1 4.1m-4.1 0l4.1 -4.1M62.2 269.8l4.1 4.1m-4.1 0l4.1 -4.1M49.8 282.9l4.1 4.1m-4.1 0l4.1 -4.1M44.0 291.9l4.1 4.1m-4.1 0l4.1 -4.1M49.7 305.0l4.1 4.1m-4.1 0l4.1 -4.1M56.8 277.3l4.1 4.1m-4.1 0l4.1 -4.1M56.4 277.4l4.1 4.1m-4.1 0l4.1 -4.1M42.2 295.0l4.1 4.1m-4.1 0l4.1 -4.1M42.8 291.1l4.1 4.1m-4.1 0l4.1 -4.1M61.8 270.7l4.1 4.1m-4.1 0l4.1 -4.1M63.2 296.4l4.1 4.1m-4.1 0l4.1 -4.1M56.9 277.7l4.1 4.1m-4.1 0l4.1 -4.1M49.2 304.7l4.1 4.1m-4.1 0l4.1 -4.1M61.1 269.8l4.1 4.1m-4.1 0l4.1 -4.1M47.8 282.9l4.1 4.1m-4.1 0l4.1 -4.1M42.8 296.1l4.1 4.1m-4.1 0l4.1 -4.1M43.6 293.8l4.1 4.1m-4.1 0l4.1 -4.1M44.6 287.2l4.1 4.1m-4.1 0l4.1 -4.1M65.9 275.1l4.1 4.1m-4.1 0l4.1 -4.1M53.8 303.7l4.1 4.1m-4.1 0l4.1 -4.1M66.6 292.4l4.1 4.1m-4.1 0l4.1 -4.1M67.9 289.9l4.1 4.1m-4.1 0l4.1 -4.1M67.0 291.3l4.1 4.1m-4.1 0l4.1 -4.1M53.8 302.7l4.1 4.1m-4.1 0l4.1 -4.1M58.7 276.9l4.1 4.1m-4.1 0l4.1 -4.1M43.2 299.7l4.1 4.1m-4.1 0l4.1 -4.1M50.4 282.2l4.1 4.1m-4.1 0l4.1 -4.1M58.3 276.4l4.1 4.1m-4.1 0l4.1 -4.1M53.9 302.8l4.1 4.1m-4.1 0l4.1 -4.1M57.7 275.9l4.1 4.1m-4.1 0l4.1 -4.1M63.6 297.2l4.1 4.1m-4.1 0l4.1 -4.1M42.9 295.2l4.1 4.1m-4.1 0l4.1 -4.1M69.2 285.3l4.1 4.1m-4.1 0l4.1 -4.1M54.2 303.8l4.1 4.1m-4.1 0l4.1 -4.1M43.6 289.3l4.1 4.1m-4.1 0l4.1 -4.1M66.3 277.7l4.1 4.1m-4.1 0l4.1 -4.1M55.9 302.7l4.1 4.1m-4.1 0l4.1 -4.1M67.5 291.5l4.1 4.1m-4.1 0l4.1 -4.1M69.7 286.8l4.1 4.1m-4.1 0l4.1 -4.1M42.7 293.9l4.1 4.1m-4.1 0l4.1 -4.1M42.7 289.4l4.1 4.1m-4.1 0l4.1 -4.1M65.1 270.1l4.1 4.1m-4.1 0l4.1 -4.1M44.1 287.9l4.1 4.1m-4.1 0l4.1 -4.1M43.3 287.2l4.1 4.1m-4.1 0l4.1 -4.1M60.2 270.8l4.1 4.1m-4.1 0l4.1 -4.1M56.3 300.8l4.1 4.1m-4.1 0l4.1 -4.1M60.3 298.8l4.1 4.1m-4.1 0l4.1 -4.1M55.9 301.5l4.1 4.1m-4.1 0l4.1 -4.1M57.7 276.8l4.1 4.1m-4.1 0l4.1 -4.1M49.2 305.1l4.1 4.1m-4.1 0l4.1 -4.1M52.4 282.2l4.1 4.1m-4.1 0l4.1 -4.1M50.7 281.5l4.1 4.1m-4.1 0l4.1 -4.1M43.0 300.6l4.1 4.1m-4.1 0l4.1 -4.1M69.9 283.7l4.1 4.1m-4.1 0l4.1 -4.1M67.1 293.4l4.1 4.1m-4.1 0l4.1 -4.1M61.7 269.6l4.1 4.1m-4.1 0l4.1 -4.1M64.4 272.6l4.1 4.1m-4.1 0l4.1 -4.1M43.0 297.6l4.1 4.1m-4.1 0l4.1 -4.1M55.7 278.6l4.1 4.1m-4.1 0l4.1 -4.1M43.6 299.1l4.1 4.1m-4.1 0l4.1 -4.1M49.3 282.8l4.1 4.1m-4.1 0l4.1 -4.1M68.2 289.5l4.1 4.1m-4.1 0l4.1 -4.1M61.9 270.2l4.1 4.1m-4.1 0l4.1 -4.1M62.2 269.0l4.1 4.1m-4.1 0l4.1 -4.1M66.7 294.2l4.1 4.1m-4.1 0l4.1 -4.1M43.7 298.3l4.1 4.1m-4.1 0l4.1 -4.1M63.5 270.4l4.1 4.1m-4.1 0l4.1 -4.1M67.4 293.3l4.1 4.1m-4.1 0l4.1 -4.1M60.5 300.2l4.1 4.1m-4.1 0l4.1 -4.1M48.7 305.0l4.1 4.1m-4.1 0l4.1 -4.1M68.2 280.8l4.1 4.1m-4.1 0l4.1 -4.1M64.4 273.0l4.1 4.1m-4.1 0l4.1 -4.1M42.2 290.2l4.1 4.1m-4.1 0l4.1 -4.1M56.8 278.9l4.1 4.1m-4.1 0l4.1 -4.1M60.1 271.2l4.1 4.1m-4.1 0l4.1 -4.1M64.4 270.8l4.1 4.1m-4.1 0l4.1 -4.1M59.9 274.2l4.1 4.1m-4.1 0l4.1 -4.1M57.8 275.8l4.1 4.1m-4.1 0l4.1 -4.1M56.0 300.8l4.1 4.1m-4.1 0l4.1 -4.1M45.5 284.0l4.1 4.1m-4.1 0l4.1 -4.1M43.6 297.1l4.1 4.1m-4.1 0l4.1 -4.1M62.3 298.1l4.1 4.1m-4.1 0l4.1 -4.1M42.9 292.7l4.1 4.1m-4.1 0l4.1 -4.1M59.7 298.7l4.1 4.1m-4.1 0l4.1 -4.1M57.2 301.2l4.1 4.1m-4.1 0l4.1 -4.1M42.6 293.7l4.1 4.1m-4.1 0l4.1 -4.1M63.3 269.6l4.1 4.1m-4.1 0l4.1 -4.1M44.0 292.6l4.1 4.1m-4.1 0l4.1 -4.1M44.4 284.8l4.1 4.1m-4.1 0l4.1 -4.1M42.7 290.2l4.1 4.1m-4.1 0l4.1 -4.1M63.0 270.7l4.1 4.1m-4.1 0l4.1 -4.1M59.9 271.2l4.1 4.1m-4.1 0l4.1 -4.1M53.5 302.4l4.1 4.1m-4.1 0l4.1 -4.1M48.2 283.6l4.1 4.1m-4.1 0l4.1 -4.1M63.3 269.3l4.1 4.1m-4.1 0l4.1 -4.1M56.3 302.2l4.1 4.1m-4.1 0l4.1 -4.1M44.1 304.0l4.1 4.1m-4.1 0l4.1 -4.1M52.7 303.1l4.1 4.1m-4.1 0l4.1 -4.1M44.1 304.4l4.1 4.1m-4.1 0l4.1 -4.1M42.1 290.6l4.1 4.1m-4.1 0l4.1 -4.1M63.2 296.7l4.1 4.1m-4.1 0l4.1 -4.1M46.2 283.5l4.1 4.1m-4.1 0l4.1 -4.1M63.7 269.5l4.1 4.1m-4.1 0l4.1 -4.1M42.6 289.2l4.1 4.1m-4.1 0l4.1 -4.1M43.0 290.0l4.1 4.1m-4.1 0l4.1 -4.1M67.8 277.5l4.1 4.1m-4.1 0l4.1 -4.1M42.3 293.0l4.1 4.1m-4.1 0l4.1 -4.1M67.3 277.4l4.1 4.1m-4.1 0l4.1 -4.1M65.1 295.0l4.1 4.1m-4.1 0l4.1 -4.1M67.1 279.5l4.1 4.1m-4.1 0l4.1 -4.1M54.4 303.9l4.1 4.1m-4.1 0l4.1 -4.1M70.1 284.6l4.1 4.1m-4.1 0l4.1 -4.1M65.6 294.1l4.1 4.1m-4.1 0l4.1 -4.1M49.2 283.2l4.1 4.1m-4.1 0l4.1 -4.1M66.2 273.9l4.1 4.1m-4.1 0l4.1 -4.1M45.1 305.5l4.1 4.1m-4.1 0l4.1 -4.1M69.4 285.1l4.1 4.1m-4.1 0l4.1 -4.1M67.2 279.6l4.1 4.1m-4.1 0l4.1 -4.1M64.6 294.6l4.1 4.1m-4.1 0l4.1 -4.1M52.4 304.2l4.1 4.1m-4.1 0l4.1 -4.1M64.9 274.6l4.1 4.1m-4.1 0l4.1 -4.1M43.6 297.7l4.1 4.1m-4.1 0l4.1 -4.1M67.7 289.6l4.1 4.1m-4.1 0l4.1 -4.1M54.9 279.8l4.1 4.1m-4.1 0l4.1 -4.1M54.1 281.8l4.1 4.1m-4.1 0l4.1 -4.1M48.6 306.1l4.1 4.1m-4.1 0l4.1 -4.1M54.2 302.2l4.1 4.1m-4.1 0l4.1 -4.1M45.7 305.2l4.1 4.1m-4.1 0l4.1 -4.1M56.9 294.7l4.1 4.1m-4.1 0l4.1 -4.1M50.4 293.7l4.1 4.1m-4.1 0l4.1 -4.1M61.7 294.8l4.1 4.1m-4.1 0l4.1 -4.1M62.3 281.7l4.1 4.1m-4.1 0l4.1 -4.1M65.8 285.9l4.1 4.1m-4.1 0l4.1 -4.1M46.6 285.4l4.1 4.1m-4.1 0l4.1 -4.1M61.9 289.7l4.1 4.1m-4.1 0l4.1 -4.1M53.3 296.1l4.1 4.1m-4.1 0l4.1 -4.1M59.6 297.7l4.1 4.1m-4.1 0l4.1 -4.1M59.7 281.1l4.1 4.1m-4.1 0l4.1 -4.1M61.5 292.2l4.1 4.1m-4.1 0l4.1 -4.1M59.7 293.6l4.1 4.1m-4.1 0l4.1 -4.1M53.6 300.8l4.1 4.1m-4.1 0l4.1 -4.1M46.2 288.9l4.1 4.1m-4.1 0l4.1 -4.1M49.3 287.0l4.1 4.1m-4.1 0l4.1 -4.1M62.5 291.7l4.1 4.1m-4.1 0l4.1 -4.1M45.0 290.5l4.1 4.1m-4.1 0l4.1 -4.1M60.1 292.2l4.1 4.1m-4.1 0l4.1 -4.1M49.7 292.3l4.1 4.1m-4.1 0l4.1 -4.1M50.2 294.8l4.1 4.1m-4.1 0l4.1 -4.1M48.1 301.8l4.1 4.1m-4.1 0l4.1 -4.1M63.0 288.7l4.1 4.1m-4.1 0l4.1 -4.1M66.3 287.4l4.1 4.1m-4.1 0l4.1 -4.1M50.6 299.5l4.1 4.1m-4.1 0l4.1 -4.1M58.6 283.7l4.1 4.1m-4.1 0l4.1 -4.1M51.2 299.5l4.1 4.1m-4.1 0l4.1 -4.1M59.7 292.9l4.1 4.1m-4.1 0l4.1 -4.1M55.8 284.0l4.1 4.1m-4.1 0l4.1 -4.1M50.1 301.9l4.1 4.1m-4.1 0l4.1 -4.1M62.6 275.8l4.1 4.1m-4.1 0l4.1 -4.1M63.4 276.3l4.1 4.1m-4.1 0l4.1 -4.1M53.9 292.7l4.1 4.1m-4.1 0l4.1 -4.1M54.2 301.1l4.1 4.1m-4.1 0l4.1 -4.1M48.4 301.7l4.1 4.1m-4.1 0l4.1 -4.1M57.8 289.2l4.1 4.1m-4.1 0l4.1 -4.1M62.3 275.4l4.1 4.1m-4.1 0l4.1 -4.1M46.4 286.7l4.1 4.1m-4.1 0l4.1 -4.1M49.0 289.9l4.1 4.1m-4.1 0l4.1 -4.1M45.4 297.5l4.1 4.1m-4.1 0l4.1 -4.1M59.5 286.5l4.1 4.1m-4.1 0l4.1 -4.1M59.1 293.9l4.1 4.1m-4.1 0l4.1 -4.1M64.6 286.4l4.1 4.1m-4.1 0l4.1 -4.1M48.7 292.7l4.1 4.1m-4.1 0l4.1 -4.1M44.6 290.6l4.1 4.1m-4.1 0l4.1 -4.1M67.4 285.7l4.1 4.1m-4.1 0l4.1 -4.1M65.4 290.6l4.1 4.1m-4.1 0l4.1 -4.1M60.8 293.4l4.1 4.1m-4.1 0l4.1 -4.1M57.9 283.6l4.1 4.1m-4.1 0l4.1 -4.1M47.9 292.6l4.1 4.1m-4.1 0l4.1 -4.1M49.0 292.2l4.1 4.1m-4.1 0l4.1 -4.1M49.3 299.0l4.1 4.1m-4.1 0l4.1 -4.1M48.3 303.8l4.1 4.1m-4.1 0l4.1 -4.1M60.8 279.2l4.1 4.1m-4.1 0l4.1 -4.1M59.6 276.2l4.1 4.1m-4.1 0l4.1 -4.1M44.5 298.8l4.1 4.1m-4.1 0l4.1 -4.1M60.0 291.2l4.1 4.1m-4.1 0l4.1 -4.1M63.1 275.5l4.1 4.1m-4.1 0l4.1 -4.1M57.6 288.3l4.1 4.1m-4.1 0l4.1 -4.1M59.5 289.9l4.1 4.1m-4.1 0l4.1 -4.1M61.8 290.1l4.1 4.1m-4.1 0l4.1 -4.1M49.4 290.8l4.1 4.1m-4.1 0l4.1 -4.1M56.6 285.5l4.1 4.1m-4.1 0l4.1 -4.1M45.7 300.3l4.1 4.1m-4.1 0l4.1 -4.1M60.6 292.0l4.1 4.1m-4.1 0l4.1 -4.1M60.1 286.7l4.1 4.1m-4.1 0l4.1 -4.1M59.7 278.6l4.1 4.1m-4.1 0l4.1 -4.1M54.9 295.8l4.1 4.1m-4.1 0l4.1 -4.1M46.9 297.8l4.1 4.1m-4.1 0l4.1 -4.1M59.8 289.7l4.1 4.1m-4.1 0l4.1 -4.1M64.7 278.2l4.1 4.1m-4.1 0l4.1 -4.1M51.9 284.6l4.1 4.1m-4.1 0l4.1 -4.1M63.1 292.6l4.1 4.1m-4.1 0l4.1 -4.1M65.2 284.7l4.1 4.1m-4.1 0l4.1 -4.1M63.8 292.1l4.1 4.1m-4.1 0l4.1 -4.1M60.4 289.7l4.1 4.1m-4.1 0l4.1 -4.1M61.4 290.2l4.1 4.1m-4.1 0l4.1 -4.1M62.6 284.4l4.1 4.1m-4.1 0l4.1 -4.1M45.3 288.1l4.1 4.1m-4.1 0l4.1 -4.1M62.9 273.0l4.1 4.1m-4.1 0l4.1 -4.1M60.5 285.8l4.1 4.1m-4.1 0l4.1 -4.1M62.1 268.1l4.1 4.1m-4.1 0l4.1 -4.1M56.4 277.0l4.1 4.1m-4.1 0l4.1 -4.1M69.2 294.3l4.1 4.1m-4.1 0l4.1 -4.1M61.4 300.1l4.1 4.1m-4.1 0l4.1 -4.1M60.3 300.9l4.1 4.1m-4.1 0l4.1 -4.1M61.1 269.0l4.1 4.1m-4.1 0l4.1 -4.1M51.1 280.0l4.1 4.1m-4.1 0l4.1 -4.1M46.8 308.5l4.1 4.1m-4.1 0l4.1 -4.1M41.8 297.0l4.1 4.1m-4.1 0l4.1 -4.1M40.3 289.1l4.1 4.1m-4.1 0l4.1 -4.1M60.0 269.8l4.1 4.1m-4.1 0l4.1 -4.1M42.1 285.6l4.1 4.1m-4.1 0l4.1 -4.1M72.1 287.3l4.1 4.1m-4.1 0l4.1 -4.1M64.7 299.0l4.1 4.1m-4.1 0l4.1 -4.1M50.8 305.9l4.1 4.1m-4.1 0l4.1 -4.1M61.1 267.0l4.1 4.1m-4.1 0l4.1 -4.1M70.7 286.7l4.1 4.1m-4.1 0l4.1 -4.1M67.9 276.0l4.1 4.1m-4.1 0l4.1 -4.1M62.4 251.9l4.1 4.1m-4.1 0l4.1 -4.1M63.0 252.1l4.1 4.1m-4.1 0l4.1 -4.1M61.8 251.8l4.1 4.1m-4.1 0l4.1 -4.1M62.5 252.5l4.1 4.1m-4.1 0l4.1 -4.1M74.4 293.4l4.1 4.1m-4.1 0l4.1 -4.1M77.0 291.1l4.1 4.1m-4.1 0l4.1 -4.1M76.4 285.9l4.1 4.1m-4.1 0l4.1 -4.1M70.2 298.1l4.1 4.1m-4.1 0l4.1 -4.1M66.0 301.3l4.1 4.1m-4.1 0l4.1 -4.1M47.0 309.9l4.1 4.1m-4.1 0l4.1 -4.1M73.5 283.4l4.1 4.1m-4.1 0l4.1 -4.1M64.0 302.4l4.1 4.1m-4.1 0l4.1 -4.1" stroke="#000" stroke-width="1.4" fill="none"/>
<path d="M159.5 247.9V324.2H238.5" fill="none" stroke="#000" stroke-width="1.6"/>
<path d="M159.5 324.2v2M196 324.2v2M232.5 324.2v2M159.5 248.6h-2.2M159.5 286.6h-2.2M159.5 324.2h-2.2" stroke="#000" stroke-width="1.1"/>
<text transform="translate(141.51 255.29) scale(0.850 1)" font-size="13.1">1.4</text>
<text transform="translate(139.07 291.49) scale(0.892 1)" font-size="13.1">0.7</text>
<text transform="translate(150.90 327.29) scale(0.850 1)" font-size="13.1">0</text>
<text transform="translate(157.70 337.20) scale(0.850 1)" font-size="13.1">0</text>
<text transform="translate(186.08 337.20) scale(1.019 1)" font-size="13.1">0.7</text>
<text transform="translate(222.58 337.20) scale(0.881 1)" font-size="13.1">1.4</text>
<text transform="translate(182.51 349.00) scale(0.850 1)" font-size="13.3">Trial 1</text>
<polygon points="212.4,258.9 208.6,260.9 202.5,266.9 198.5,273.2 194.0,278.0 189.9,284.2 186.1,291.1 187.0,296.0 191.1,298.2 197.9,294.2 200.0,288.7 205.9,282.6 210.5,278.7 217.0,273.8 219.5,268.3 218.0,262.6 215.2,259.8" fill="#000"/>
<path d="M199.2 266.0l4.1 4.1m-4.1 0l4.1 -4.1M198.7 265.7l4.1 4.1m-4.1 0l4.1 -4.1M185.0 294.9l4.1 4.1m-4.1 0l4.1 -4.1M202.5 283.2l4.1 4.1m-4.1 0l4.1 -4.1M185.5 293.7l4.1 4.1m-4.1 0l4.1 -4.1M202.1 262.3l4.1 4.1m-4.1 0l4.1 -4.1M217.1 269.2l4.1 4.1m-4.1 0l4.1 -4.1M208.1 259.6l4.1 4.1m-4.1 0l4.1 -4.1M185.0 291.5l4.1 4.1m-4.1 0l4.1 -4.1M209.1 275.2l4.1 4.1m-4.1 0l4.1 -4.1M197.3 287.4l4.1 4.1m-4.1 0l4.1 -4.1M208.6 276.5l4.1 4.1m-4.1 0l4.1 -4.1M195.0 270.2l4.1 4.1m-4.1 0l4.1 -4.1M217.2 261.0l4.1 4.1m-4.1 0l4.1 -4.1M188.3 296.4l4.1 4.1m-4.1 0l4.1 -4.1M208.0 259.0l4.1 4.1m-4.1 0l4.1 -4.1M191.3 294.1l4.1 4.1m-4.1 0l4.1 -4.1M188.4 284.1l4.1 4.1m-4.1 0l4.1 -4.1M188.6 282.7l4.1 4.1m-4.1 0l4.1 -4.1M185.8 295.1l4.1 4.1m-4.1 0l4.1 -4.1M214.7 270.0l4.1 4.1m-4.1 0l4.1 -4.1M217.5 262.3l4.1 4.1m-4.1 0l4.1 -4.1M205.6 260.7l4.1 4.1m-4.1 0l4.1 -4.1M184.0 292.7l4.1 4.1m-4.1 0l4.1 -4.1M203.8 262.2l4.1 4.1m-4.1 0l4.1 -4.1M186.4 288.1l4.1 4.1m-4.1 0l4.1 -4.1M191.4 275.9l4.1 4.1m-4.1 0l4.1 -4.1M208.2 258.5l4.1 4.1m-4.1 0l4.1 -4.1M207.2 279.4l4.1 4.1m-4.1 0l4.1 -4.1M216.7 267.9l4.1 4.1m-4.1 0l4.1 -4.1M202.6 282.2l4.1 4.1m-4.1 0l4.1 -4.1M193.6 289.4l4.1 4.1m-4.1 0l4.1 -4.1M187.7 282.8l4.1 4.1m-4.1 0l4.1 -4.1M208.6 257.4l4.1 4.1m-4.1 0l4.1 -4.1M196.6 271.0l4.1 4.1m-4.1 0l4.1 -4.1M188.2 282.2l4.1 4.1m-4.1 0l4.1 -4.1M194.2 289.5l4.1 4.1m-4.1 0l4.1 -4.1M184.0 295.2l4.1 4.1m-4.1 0l4.1 -4.1M209.9 276.0l4.1 4.1m-4.1 0l4.1 -4.1M192.8 292.3l4.1 4.1m-4.1 0l4.1 -4.1M183.7 290.7l4.1 4.1m-4.1 0l4.1 -4.1M197.0 270.4l4.1 4.1m-4.1 0l4.1 -4.1M201.7 284.3l4.1 4.1m-4.1 0l4.1 -4.1M189.8 278.0l4.1 4.1m-4.1 0l4.1 -4.1M216.4 269.6l4.1 4.1m-4.1 0l4.1 -4.1M202.4 263.7l4.1 4.1m-4.1 0l4.1 -4.1M193.2 275.2l4.1 4.1m-4.1 0l4.1 -4.1M218.1 264.4l4.1 4.1m-4.1 0l4.1 -4.1M185.7 287.4l4.1 4.1m-4.1 0l4.1 -4.1M187.6 285.8l4.1 4.1m-4.1 0l4.1 -4.1M207.3 278.4l4.1 4.1m-4.1 0l4.1 -4.1M184.6 294.2l4.1 4.1m-4.1 0l4.1 -4.1M189.8 278.9l4.1 4.1m-4.1 0l4.1 -4.1M205.2 280.5l4.1 4.1m-4.1 0l4.1 -4.1M211.5 273.9l4.1 4.1m-4.1 0l4.1 -4.1M202.9 263.4l4.1 4.1m-4.1 0l4.1 -4.1M194.9 289.6l4.1 4.1m-4.1 0l4.1 -4.1M213.9 271.9l4.1 4.1m-4.1 0l4.1 -4.1M197.5 285.4l4.1 4.1m-4.1 0l4.1 -4.1M188.6 281.5l4.1 4.1m-4.1 0l4.1 -4.1M202.4 283.8l4.1 4.1m-4.1 0l4.1 -4.1M210.9 257.7l4.1 4.1m-4.1 0l4.1 -4.1M206.4 278.3l4.1 4.1m-4.1 0l4.1 -4.1M196.4 271.2l4.1 4.1m-4.1 0l4.1 -4.1M206.3 278.3l4.1 4.1m-4.1 0l4.1 -4.1M218.0 265.4l4.1 4.1m-4.1 0l4.1 -4.1M184.1 294.8l4.1 4.1m-4.1 0l4.1 -4.1M200.2 266.7l4.1 4.1m-4.1 0l4.1 -4.1M212.2 274.1l4.1 4.1m-4.1 0l4.1 -4.1M201.4 283.7l4.1 4.1m-4.1 0l4.1 -4.1M210.0 274.6l4.1 4.1m-4.1 0l4.1 -4.1M204.9 260.7l4.1 4.1m-4.1 0l4.1 -4.1M193.8 292.6l4.1 4.1m-4.1 0l4.1 -4.1M194.6 273.7l4.1 4.1m-4.1 0l4.1 -4.1M215.4 258.5l4.1 4.1m-4.1 0l4.1 -4.1M216.9 266.1l4.1 4.1m-4.1 0l4.1 -4.1M184.5 290.9l4.1 4.1m-4.1 0l4.1 -4.1M197.9 286.6l4.1 4.1m-4.1 0l4.1 -4.1M184.6 292.3l4.1 4.1m-4.1 0l4.1 -4.1M184.6 291.5l4.1 4.1m-4.1 0l4.1 -4.1M209.5 258.3l4.1 4.1m-4.1 0l4.1 -4.1M196.0 270.4l4.1 4.1m-4.1 0l4.1 -4.1M193.8 293.0l4.1 4.1m-4.1 0l4.1 -4.1M192.7 274.0l4.1 4.1m-4.1 0l4.1 -4.1M191.8 277.0l4.1 4.1m-4.1 0l4.1 -4.1M218.2 264.3l4.1 4.1m-4.1 0l4.1 -4.1M214.4 271.1l4.1 4.1m-4.1 0l4.1 -4.1M203.6 280.6l4.1 4.1m-4.1 0l4.1 -4.1M207.6 276.6l4.1 4.1m-4.1 0l4.1 -4.1M216.9 268.6l4.1 4.1m-4.1 0l4.1 -4.1M187.1 283.3l4.1 4.1m-4.1 0l4.1 -4.1M213.6 272.4l4.1 4.1m-4.1 0l4.1 -4.1M207.6 276.6l4.1 4.1m-4.1 0l4.1 -4.1M192.3 291.9l4.1 4.1m-4.1 0l4.1 -4.1M200.9 284.2l4.1 4.1m-4.1 0l4.1 -4.1M201.6 263.1l4.1 4.1m-4.1 0l4.1 -4.1M217.8 263.0l4.1 4.1m-4.1 0l4.1 -4.1M202.8 281.5l4.1 4.1m-4.1 0l4.1 -4.1M217.1 263.1l4.1 4.1m-4.1 0l4.1 -4.1M217.3 260.0l4.1 4.1m-4.1 0l4.1 -4.1M193.9 289.7l4.1 4.1m-4.1 0l4.1 -4.1M195.0 287.6l4.1 4.1m-4.1 0l4.1 -4.1M197.5 269.1l4.1 4.1m-4.1 0l4.1 -4.1M208.9 257.6l4.1 4.1m-4.1 0l4.1 -4.1M197.7 269.7l4.1 4.1m-4.1 0l4.1 -4.1M190.4 295.4l4.1 4.1m-4.1 0l4.1 -4.1M189.3 279.1l4.1 4.1m-4.1 0l4.1 -4.1M194.3 274.2l4.1 4.1m-4.1 0l4.1 -4.1M189.4 296.1l4.1 4.1m-4.1 0l4.1 -4.1M202.2 262.2l4.1 4.1m-4.1 0l4.1 -4.1M210.5 274.0l4.1 4.1m-4.1 0l4.1 -4.1M189.4 282.5l4.1 4.1m-4.1 0l4.1 -4.1M185.5 293.1l4.1 4.1m-4.1 0l4.1 -4.1M204.4 280.9l4.1 4.1m-4.1 0l4.1 -4.1M196.3 287.9l4.1 4.1m-4.1 0l4.1 -4.1M206.5 277.9l4.1 4.1m-4.1 0l4.1 -4.1M191.2 295.0l4.1 4.1m-4.1 0l4.1 -4.1M195.9 287.8l4.1 4.1m-4.1 0l4.1 -4.1M203.2 282.0l4.1 4.1m-4.1 0l4.1 -4.1M184.9 294.0l4.1 4.1m-4.1 0l4.1 -4.1M185.3 292.7l4.1 4.1m-4.1 0l4.1 -4.1M185.5 287.9l4.1 4.1m-4.1 0l4.1 -4.1M188.7 280.4l4.1 4.1m-4.1 0l4.1 -4.1M198.7 284.8l4.1 4.1m-4.1 0l4.1 -4.1M195.5 269.9l4.1 4.1m-4.1 0l4.1 -4.1M210.9 257.1l4.1 4.1m-4.1 0l4.1 -4.1M190.1 279.6l4.1 4.1m-4.1 0l4.1 -4.1M194.5 288.2l4.1 4.1m-4.1 0l4.1 -4.1M194.5 288.8l4.1 4.1m-4.1 0l4.1 -4.1M211.9 272.8l4.1 4.1m-4.1 0l4.1 -4.1M190.5 276.3l4.1 4.1m-4.1 0l4.1 -4.1M190.0 279.5l4.1 4.1m-4.1 0l4.1 -4.1M217.7 263.5l4.1 4.1m-4.1 0l4.1 -4.1M211.4 274.4l4.1 4.1m-4.1 0l4.1 -4.1M200.1 264.4l4.1 4.1m-4.1 0l4.1 -4.1M209.5 276.5l4.1 4.1m-4.1 0l4.1 -4.1M195.6 269.9l4.1 4.1m-4.1 0l4.1 -4.1M191.0 277.0l4.1 4.1m-4.1 0l4.1 -4.1M192.7 292.3l4.1 4.1m-4.1 0l4.1 -4.1M186.2 285.6l4.1 4.1m-4.1 0l4.1 -4.1M202.7 273.5l4.1 4.1m-4.1 0l4.1 -4.1M202.3 270.2l4.1 4.1m-4.1 0l4.1 -4.1M202.9 267.0l4.1 4.1m-4.1 0l4.1 -4.1M209.7 267.5l4.1 4.1m-4.1 0l4.1 -4.1M208.3 265.7l4.1 4.1m-4.1 0l4.1 -4.1M206.5 270.1l4.1 4.1m-4.1 0l4.1 -4.1M201.2 266.2l4.1 4.1m-4.1 0l4.1 -4.1M214.5 265.3l4.1 4.1m-4.1 0l4.1 -4.1M203.6 279.5l4.1 4.1m-4.1 0l4.1 -4.1M197.3 272.2l4.1 4.1m-4.1 0l4.1 -4.1M205.0 277.3l4.1 4.1m-4.1 0l4.1 -4.1M207.1 265.6l4.1 4.1m-4.1 0l4.1 -4.1M210.9 258.5l4.1 4.1m-4.1 0l4.1 -4.1M212.6 260.4l4.1 4.1m-4.1 0l4.1 -4.1M189.5 287.0l4.1 4.1m-4.1 0l4.1 -4.1M191.6 283.3l4.1 4.1m-4.1 0l4.1 -4.1M210.0 259.3l4.1 4.1m-4.1 0l4.1 -4.1M206.8 269.6l4.1 4.1m-4.1 0l4.1 -4.1M212.3 270.3l4.1 4.1m-4.1 0l4.1 -4.1M207.3 275.0l4.1 4.1m-4.1 0l4.1 -4.1M187.2 292.2l4.1 4.1m-4.1 0l4.1 -4.1M210.3 272.0l4.1 4.1m-4.1 0l4.1 -4.1M202.9 267.5l4.1 4.1m-4.1 0l4.1 -4.1M207.0 273.3l4.1 4.1m-4.1 0l4.1 -4.1M212.1 267.0l4.1 4.1m-4.1 0l4.1 -4.1M205.2 269.9l4.1 4.1m-4.1 0l4.1 -4.1M211.5 269.3l4.1 4.1m-4.1 0l4.1 -4.1M201.5 266.3l4.1 4.1m-4.1 0l4.1 -4.1M195.0 286.5l4.1 4.1m-4.1 0l4.1 -4.1M206.9 271.0l4.1 4.1m-4.1 0l4.1 -4.1M210.8 261.1l4.1 4.1m-4.1 0l4.1 -4.1M186.9 292.1l4.1 4.1m-4.1 0l4.1 -4.1M205.8 263.9l4.1 4.1m-4.1 0l4.1 -4.1M202.9 275.0l4.1 4.1m-4.1 0l4.1 -4.1M210.3 269.9l4.1 4.1m-4.1 0l4.1 -4.1M210.2 273.2l4.1 4.1m-4.1 0l4.1 -4.1M193.7 277.2l4.1 4.1m-4.1 0l4.1 -4.1M203.3 278.7l4.1 4.1m-4.1 0l4.1 -4.1M188.4 285.8l4.1 4.1m-4.1 0l4.1 -4.1M201.9 272.1l4.1 4.1m-4.1 0l4.1 -4.1M195.7 272.5l4.1 4.1m-4.1 0l4.1 -4.1M195.5 275.8l4.1 4.1m-4.1 0l4.1 -4.1M188.2 287.6l4.1 4.1m-4.1 0l4.1 -4.1M202.4 277.5l4.1 4.1m-4.1 0l4.1 -4.1M208.4 270.4l4.1 4.1m-4.1 0l4.1 -4.1M190.3 281.7l4.1 4.1m-4.1 0l4.1 -4.1M193.1 282.5l4.1 4.1m-4.1 0l4.1 -4.1M201.0 276.4l4.1 4.1m-4.1 0l4.1 -4.1M213.7 265.8l4.1 4.1m-4.1 0l4.1 -4.1M212.4 271.0l4.1 4.1m-4.1 0l4.1 -4.1M209.5 263.1l4.1 4.1m-4.1 0l4.1 -4.1M207.6 261.2l4.1 4.1m-4.1 0l4.1 -4.1M190.9 289.1l4.1 4.1m-4.1 0l4.1 -4.1M192.1 278.6l4.1 4.1m-4.1 0l4.1 -4.1M192.2 284.0l4.1 4.1m-4.1 0l4.1 -4.1M195.2 282.4l4.1 4.1m-4.1 0l4.1 -4.1M189.8 291.6l4.1 4.1m-4.1 0l4.1 -4.1M213.2 258.5l4.1 4.1m-4.1 0l4.1 -4.1M189.5 284.8l4.1 4.1m-4.1 0l4.1 -4.1M203.3 276.3l4.1 4.1m-4.1 0l4.1 -4.1M206.0 265.4l4.1 4.1m-4.1 0l4.1 -4.1M191.9 288.9l4.1 4.1m-4.1 0l4.1 -4.1M201.8 266.0l4.1 4.1m-4.1 0l4.1 -4.1M208.7 264.9l4.1 4.1m-4.1 0l4.1 -4.1M189.5 289.3l4.1 4.1m-4.1 0l4.1 -4.1M193.7 285.2l4.1 4.1m-4.1 0l4.1 -4.1M187.1 291.2l4.1 4.1m-4.1 0l4.1 -4.1M208.6 261.1l4.1 4.1m-4.1 0l4.1 -4.1M199.4 276.5l4.1 4.1m-4.1 0l4.1 -4.1M189.9 290.3l4.1 4.1m-4.1 0l4.1 -4.1M199.0 263.9l4.1 4.1m-4.1 0l4.1 -4.1M194.2 269.9l4.1 4.1m-4.1 0l4.1 -4.1M187.5 298.9l4.1 4.1m-4.1 0l4.1 -4.1M188.4 277.0l4.1 4.1m-4.1 0l4.1 -4.1M190.6 296.2l4.1 4.1m-4.1 0l4.1 -4.1M196.8 267.4l4.1 4.1m-4.1 0l4.1 -4.1M219.4 262.8l4.1 4.1m-4.1 0l4.1 -4.1M217.2 270.5l4.1 4.1m-4.1 0l4.1 -4.1M210.9 278.2l4.1 4.1m-4.1 0l4.1 -4.1M185.6 298.3l4.1 4.1m-4.1 0l4.1 -4.1M214.1 272.8l4.1 4.1m-4.1 0l4.1 -4.1M194.0 269.3l4.1 4.1m-4.1 0l4.1 -4.1M188.5 297.3l4.1 4.1m-4.1 0l4.1 -4.1M213.5 275.9l4.1 4.1m-4.1 0l4.1 -4.1M216.7 271.0l4.1 4.1m-4.1 0l4.1 -4.1M208.2 280.2l4.1 4.1m-4.1 0l4.1 -4.1M209.2 279.8l4.1 4.1m-4.1 0l4.1 -4.1M194.7 294.6l4.1 4.1m-4.1 0l4.1 -4.1M217.3 271.0l4.1 4.1m-4.1 0l4.1 -4.1M204.0 283.6l4.1 4.1m-4.1 0l4.1 -4.1" stroke="#000" stroke-width="1.4" fill="none"/>
<path d="M293.3 93.7V168.1H356.6" fill="none" stroke="#000" stroke-width="1.6"/>
<path d="M293.3 168.1v2M325.4 168.1v2M356.1 168.1v2M293.3 94.3h-2.2M293.3 130.8h-2.2M293.3 168.1h-2.2" stroke="#000" stroke-width="1.1"/>
<text transform="translate(277.96 100.29) scale(0.850 1)" font-size="13.1">24</text>
<text transform="translate(285.10 135.49) scale(0.850 1)" font-size="13.1">0</text>
<text transform="translate(273.48 170.19) scale(0.885 1)" font-size="13.1">-24</text>
<text transform="translate(284.40 180.60) scale(0.850 1)" font-size="13.1">-24</text>
<text transform="translate(322.50 180.60) scale(0.850 1)" font-size="13.1">0</text>
<text transform="translate(348.07 180.60) scale(0.882 1)" font-size="13.1">24</text>
<text transform="translate(311.47 194.70) scale(0.874 1)" font-size="13.3">Trial 1</text>
<polygon points="328.4,127.0 324.8,129.1 321.7,130.4 319.3,131.0 318.8,134.7 321.0,136.8 322.8,137.5 323.4,141.4 326.0,143.5 325.8,137.2 326.8,133.4" fill="#000"/>
<path d="M322.4 126.1l4.1 4.1m-4.1 0l4.1 -4.1M325.0 126.9l4.1 4.1m-4.1 0l4.1 -4.1M322.0 136.7l4.1 4.1m-4.1 0l4.1 -4.1M319.1 126.8l4.1 4.1m-4.1 0l4.1 -4.1M318.6 127.2l4.1 4.1m-4.1 0l4.1 -4.1M320.9 126.3l4.1 4.1m-4.1 0l4.1 -4.1M321.3 136.1l4.1 4.1m-4.1 0l4.1 -4.1M326.0 128.8l4.1 4.1m-4.1 0l4.1 -4.1M315.4 132.2l4.1 4.1m-4.1 0l4.1 -4.1M324.3 131.3l4.1 4.1m-4.1 0l4.1 -4.1M321.4 127.4l4.1 4.1m-4.1 0l4.1 -4.1M316.0 129.8l4.1 4.1m-4.1 0l4.1 -4.1M325.5 132.4l4.1 4.1m-4.1 0l4.1 -4.1M315.8 129.7l4.1 4.1m-4.1 0l4.1 -4.1M324.5 131.2l4.1 4.1m-4.1 0l4.1 -4.1M326.1 130.3l4.1 4.1m-4.1 0l4.1 -4.1M326.4 126.0l4.1 4.1m-4.1 0l4.1 -4.1M324.7 126.8l4.1 4.1m-4.1 0l4.1 -4.1M318.3 127.1l4.1 4.1m-4.1 0l4.1 -4.1M325.0 133.2l4.1 4.1m-4.1 0l4.1 -4.1M325.8 126.6l4.1 4.1m-4.1 0l4.1 -4.1M319.6 128.0l4.1 4.1m-4.1 0l4.1 -4.1M317.6 133.3l4.1 4.1m-4.1 0l4.1 -4.1M316.7 132.9l4.1 4.1m-4.1 0l4.1 -4.1M324.7 130.5l4.1 4.1m-4.1 0l4.1 -4.1M324.6 136.0l4.1 4.1m-4.1 0l4.1 -4.1M324.7 129.0l4.1 4.1m-4.1 0l4.1 -4.1M317.4 134.1l4.1 4.1m-4.1 0l4.1 -4.1M322.5 125.7l4.1 4.1m-4.1 0l4.1 -4.1M324.2 135.7l4.1 4.1m-4.1 0l4.1 -4.1M324.1 132.5l4.1 4.1m-4.1 0l4.1 -4.1M323.5 141.4l4.1 4.1m-4.1 0l4.1 -4.1M319.5 136.2l4.1 4.1m-4.1 0l4.1 -4.1M316.1 132.3l4.1 4.1m-4.1 0l4.1 -4.1M320.9 136.6l4.1 4.1m-4.1 0l4.1 -4.1M318.5 134.3l4.1 4.1m-4.1 0l4.1 -4.1M324.7 129.8l4.1 4.1m-4.1 0l4.1 -4.1M325.2 127.7l4.1 4.1m-4.1 0l4.1 -4.1M320.9 136.0l4.1 4.1m-4.1 0l4.1 -4.1M324.6 129.6l4.1 4.1m-4.1 0l4.1 -4.1M323.8 133.8l4.1 4.1m-4.1 0l4.1 -4.1M324.7 136.6l4.1 4.1m-4.1 0l4.1 -4.1M320.6 126.7l4.1 4.1m-4.1 0l4.1 -4.1M319.0 127.9l4.1 4.1m-4.1 0l4.1 -4.1M324.6 127.9l4.1 4.1m-4.1 0l4.1 -4.1M317.5 134.9l4.1 4.1m-4.1 0l4.1 -4.1M316.7 130.6l4.1 4.1m-4.1 0l4.1 -4.1M316.4 132.0l4.1 4.1m-4.1 0l4.1 -4.1M321.0 126.9l4.1 4.1m-4.1 0l4.1 -4.1M322.5 140.1l4.1 4.1m-4.1 0l4.1 -4.1M324.7 129.9l4.1 4.1m-4.1 0l4.1 -4.1M319.7 135.7l4.1 4.1m-4.1 0l4.1 -4.1M317.6 133.3l4.1 4.1m-4.1 0l4.1 -4.1M325.0 130.5l4.1 4.1m-4.1 0l4.1 -4.1M316.0 130.3l4.1 4.1m-4.1 0l4.1 -4.1M318.8 135.6l4.1 4.1m-4.1 0l4.1 -4.1M323.6 135.9l4.1 4.1m-4.1 0l4.1 -4.1M320.6 135.8l4.1 4.1m-4.1 0l4.1 -4.1M324.2 131.1l4.1 4.1m-4.1 0l4.1 -4.1M326.1 129.8l4.1 4.1m-4.1 0l4.1 -4.1M316.2 130.9l4.1 4.1m-4.1 0l4.1 -4.1M322.9 140.7l4.1 4.1m-4.1 0l4.1 -4.1M319.1 134.4l4.1 4.1m-4.1 0l4.1 -4.1M323.8 133.1l4.1 4.1m-4.1 0l4.1 -4.1M324.2 134.5l4.1 4.1m-4.1 0l4.1 -4.1M324.7 128.5l4.1 4.1m-4.1 0l4.1 -4.1M322.2 137.1l4.1 4.1m-4.1 0l4.1 -4.1M317.0 129.2l4.1 4.1m-4.1 0l4.1 -4.1M316.5 131.4l4.1 4.1m-4.1 0l4.1 -4.1M317.8 133.1l4.1 4.1m-4.1 0l4.1 -4.1M322.1 134.0l4.1 4.1m-4.1 0l4.1 -4.1M322.0 130.3l4.1 4.1m-4.1 0l4.1 -4.1M318.7 132.7l4.1 4.1m-4.1 0l4.1 -4.1M318.3 132.4l4.1 4.1m-4.1 0l4.1 -4.1M323.4 127.8l4.1 4.1m-4.1 0l4.1 -4.1M320.5 131.5l4.1 4.1m-4.1 0l4.1 -4.1M322.5 134.3l4.1 4.1m-4.1 0l4.1 -4.1M318.1 131.4l4.1 4.1m-4.1 0l4.1 -4.1M324.0 127.7l4.1 4.1m-4.1 0l4.1 -4.1M322.1 130.5l4.1 4.1m-4.1 0l4.1 -4.1M318.2 131.3l4.1 4.1m-4.1 0l4.1 -4.1M319.3 129.7l4.1 4.1m-4.1 0l4.1 -4.1M320.1 130.8l4.1 4.1m-4.1 0l4.1 -4.1M319.6 133.0l4.1 4.1m-4.1 0l4.1 -4.1M322.7 135.7l4.1 4.1m-4.1 0l4.1 -4.1M322.7 129.7l4.1 4.1m-4.1 0l4.1 -4.1M321.1 133.3l4.1 4.1m-4.1 0l4.1 -4.1M322.5 128.3l4.1 4.1m-4.1 0l4.1 -4.1M318.4 132.2l4.1 4.1m-4.1 0l4.1 -4.1M323.5 133.1l4.1 4.1m-4.1 0l4.1 -4.1M327.1 131.4l4.1 4.1m-4.1 0l4.1 -4.1M321.3 138.8l4.1 4.1m-4.1 0l4.1 -4.1M316.4 134.9l4.1 4.1m-4.1 0l4.1 -4.1M315.2 129.9l4.1 4.1m-4.1 0l4.1 -4.1M326.4 132.7l4.1 4.1m-4.1 0l4.1 -4.1M323.7 124.9l4.1 4.1m-4.1 0l4.1 -4.1M317.6 125.3l4.1 4.1m-4.1 0l4.1 -4.1M322.9 142.1l4.1 4.1m-4.1 0l4.1 -4.1M313.8 132.4l4.1 4.1m-4.1 0l4.1 -4.1M320.7 140.5l4.1 4.1m-4.1 0l4.1 -4.1M293.6 128.0l4.1 4.1m-4.1 0l4.1 -4.1M308.8 127.4l4.1 4.1m-4.1 0l4.1 -4.1M309.4 130.0l4.1 4.1m-4.1 0l4.1 -4.1M309.1 128.5l4.1 4.1m-4.1 0l4.1 -4.1M314.3 139.8l4.1 4.1m-4.1 0l4.1 -4.1M323.6 143.5l4.1 4.1m-4.1 0l4.1 -4.1" stroke="#000" stroke-width="1.4" fill="none"/>
<path d="M403.7 94.2V168H466.3" fill="none" stroke="#000" stroke-width="1.6"/>
<path d="M403.7 168v2M435 168v2M466 168v2M403.7 94.8h-2.2M403.7 131.4h-2.2M403.7 168h-2.2" stroke="#000" stroke-width="1.1"/>
<text transform="translate(394.40 99.49) scale(0.850 1)" font-size="13.1">7</text>
<text transform="translate(394.65 136.29) scale(0.850 1)" font-size="13.1">0</text>
<text transform="translate(389.80 170.49) scale(0.850 1)" font-size="13.1">-7</text>
<text transform="translate(397.05 180.60) scale(0.850 1)" font-size="13.1">-7</text>
<text transform="translate(431.60 180.60) scale(0.850 1)" font-size="13.1">0</text>
<text transform="translate(463.90 180.60) scale(0.850 1)" font-size="13.1">7</text>
<text transform="translate(419.27 194.70) scale(0.879 1)" font-size="13.3">Trial 1</text>
<polygon points="442.8,119.3 440.4,121.2 438.5,124.8 434.4,123.5 430.8,125.8 425.9,129.4 424.8,133.7 426.9,138.0 429.7,141.8 434.0,143.9 438.2,139.5 440.6,134.2 442.0,130.0 444.8,125.3 446.1,121.3" fill="#000"/>
<path d="M439.2 133.6l4.1 4.1m-4.1 0l4.1 -4.1M428.7 123.9l4.1 4.1m-4.1 0l4.1 -4.1M428.7 123.2l4.1 4.1m-4.1 0l4.1 -4.1M444.2 117.4l4.1 4.1m-4.1 0l4.1 -4.1M441.5 124.0l4.1 4.1m-4.1 0l4.1 -4.1M438.0 121.8l4.1 4.1m-4.1 0l4.1 -4.1M438.1 121.4l4.1 4.1m-4.1 0l4.1 -4.1M437.2 123.0l4.1 4.1m-4.1 0l4.1 -4.1M431.1 122.1l4.1 4.1m-4.1 0l4.1 -4.1M424.9 125.8l4.1 4.1m-4.1 0l4.1 -4.1M428.5 123.8l4.1 4.1m-4.1 0l4.1 -4.1M440.7 126.1l4.1 4.1m-4.1 0l4.1 -4.1M422.6 130.8l4.1 4.1m-4.1 0l4.1 -4.1M427.4 123.8l4.1 4.1m-4.1 0l4.1 -4.1M434.6 140.0l4.1 4.1m-4.1 0l4.1 -4.1M434.3 122.0l4.1 4.1m-4.1 0l4.1 -4.1M423.0 129.9l4.1 4.1m-4.1 0l4.1 -4.1M439.6 122.5l4.1 4.1m-4.1 0l4.1 -4.1M444.2 117.9l4.1 4.1m-4.1 0l4.1 -4.1M425.7 126.2l4.1 4.1m-4.1 0l4.1 -4.1M422.3 130.2l4.1 4.1m-4.1 0l4.1 -4.1M437.7 133.1l4.1 4.1m-4.1 0l4.1 -4.1M437.7 134.7l4.1 4.1m-4.1 0l4.1 -4.1M426.8 125.0l4.1 4.1m-4.1 0l4.1 -4.1M422.9 131.9l4.1 4.1m-4.1 0l4.1 -4.1M423.3 133.4l4.1 4.1m-4.1 0l4.1 -4.1M443.2 123.6l4.1 4.1m-4.1 0l4.1 -4.1M423.8 135.7l4.1 4.1m-4.1 0l4.1 -4.1M435.9 121.2l4.1 4.1m-4.1 0l4.1 -4.1M440.4 126.0l4.1 4.1m-4.1 0l4.1 -4.1M432.1 119.9l4.1 4.1m-4.1 0l4.1 -4.1M436.0 122.4l4.1 4.1m-4.1 0l4.1 -4.1M427.3 124.6l4.1 4.1m-4.1 0l4.1 -4.1M442.6 118.1l4.1 4.1m-4.1 0l4.1 -4.1M424.8 136.4l4.1 4.1m-4.1 0l4.1 -4.1M432.9 141.9l4.1 4.1m-4.1 0l4.1 -4.1M433.8 139.7l4.1 4.1m-4.1 0l4.1 -4.1M426.0 124.2l4.1 4.1m-4.1 0l4.1 -4.1M441.4 118.5l4.1 4.1m-4.1 0l4.1 -4.1M439.9 120.8l4.1 4.1m-4.1 0l4.1 -4.1M436.6 136.8l4.1 4.1m-4.1 0l4.1 -4.1M431.9 140.5l4.1 4.1m-4.1 0l4.1 -4.1M432.2 140.6l4.1 4.1m-4.1 0l4.1 -4.1M421.8 132.1l4.1 4.1m-4.1 0l4.1 -4.1M441.5 117.6l4.1 4.1m-4.1 0l4.1 -4.1M441.0 126.7l4.1 4.1m-4.1 0l4.1 -4.1M428.9 122.3l4.1 4.1m-4.1 0l4.1 -4.1M438.7 130.8l4.1 4.1m-4.1 0l4.1 -4.1M427.8 141.9l4.1 4.1m-4.1 0l4.1 -4.1M439.5 120.4l4.1 4.1m-4.1 0l4.1 -4.1M431.4 121.8l4.1 4.1m-4.1 0l4.1 -4.1M424.3 127.0l4.1 4.1m-4.1 0l4.1 -4.1M442.9 121.6l4.1 4.1m-4.1 0l4.1 -4.1M423.1 127.9l4.1 4.1m-4.1 0l4.1 -4.1M442.3 121.6l4.1 4.1m-4.1 0l4.1 -4.1M429.8 121.3l4.1 4.1m-4.1 0l4.1 -4.1M439.4 134.0l4.1 4.1m-4.1 0l4.1 -4.1M441.7 124.8l4.1 4.1m-4.1 0l4.1 -4.1M435.7 138.5l4.1 4.1m-4.1 0l4.1 -4.1M440.1 131.8l4.1 4.1m-4.1 0l4.1 -4.1M422.5 131.2l4.1 4.1m-4.1 0l4.1 -4.1M429.7 122.4l4.1 4.1m-4.1 0l4.1 -4.1M425.9 125.6l4.1 4.1m-4.1 0l4.1 -4.1M424.1 138.0l4.1 4.1m-4.1 0l4.1 -4.1M442.4 118.8l4.1 4.1m-4.1 0l4.1 -4.1M432.1 142.1l4.1 4.1m-4.1 0l4.1 -4.1M440.0 121.7l4.1 4.1m-4.1 0l4.1 -4.1M425.4 139.0l4.1 4.1m-4.1 0l4.1 -4.1M443.2 120.2l4.1 4.1m-4.1 0l4.1 -4.1M442.7 124.1l4.1 4.1m-4.1 0l4.1 -4.1M421.9 132.0l4.1 4.1m-4.1 0l4.1 -4.1M439.0 134.5l4.1 4.1m-4.1 0l4.1 -4.1M438.5 135.0l4.1 4.1m-4.1 0l4.1 -4.1M442.0 126.9l4.1 4.1m-4.1 0l4.1 -4.1M423.8 126.3l4.1 4.1m-4.1 0l4.1 -4.1M435.5 139.7l4.1 4.1m-4.1 0l4.1 -4.1M422.6 128.9l4.1 4.1m-4.1 0l4.1 -4.1M443.8 117.9l4.1 4.1m-4.1 0l4.1 -4.1M430.4 142.5l4.1 4.1m-4.1 0l4.1 -4.1M429.1 123.1l4.1 4.1m-4.1 0l4.1 -4.1M442.0 122.7l4.1 4.1m-4.1 0l4.1 -4.1M442.7 120.0l4.1 4.1m-4.1 0l4.1 -4.1M443.6 117.0l4.1 4.1m-4.1 0l4.1 -4.1M426.2 137.6l4.1 4.1m-4.1 0l4.1 -4.1M440.4 119.6l4.1 4.1m-4.1 0l4.1 -4.1M443.6 121.3l4.1 4.1m-4.1 0l4.1 -4.1M443.0 117.6l4.1 4.1m-4.1 0l4.1 -4.1M424.1 127.6l4.1 4.1m-4.1 0l4.1 -4.1M429.7 141.3l4.1 4.1m-4.1 0l4.1 -4.1M430.2 141.5l4.1 4.1m-4.1 0l4.1 -4.1M427.5 124.9l4.1 4.1m-4.1 0l4.1 -4.1M437.9 133.0l4.1 4.1m-4.1 0l4.1 -4.1M442.5 123.1l4.1 4.1m-4.1 0l4.1 -4.1M441.4 127.0l4.1 4.1m-4.1 0l4.1 -4.1M426.0 126.5l4.1 4.1m-4.1 0l4.1 -4.1M424.6 137.4l4.1 4.1m-4.1 0l4.1 -4.1M431.2 120.9l4.1 4.1m-4.1 0l4.1 -4.1M434.8 140.3l4.1 4.1m-4.1 0l4.1 -4.1M425.9 125.5l4.1 4.1m-4.1 0l4.1 -4.1M427.1 139.4l4.1 4.1m-4.1 0l4.1 -4.1M440.5 127.1l4.1 4.1m-4.1 0l4.1 -4.1M433.7 121.7l4.1 4.1m-4.1 0l4.1 -4.1M443.9 120.2l4.1 4.1m-4.1 0l4.1 -4.1M422.7 129.8l4.1 4.1m-4.1 0l4.1 -4.1M426.3 126.1l4.1 4.1m-4.1 0l4.1 -4.1M441.4 118.1l4.1 4.1m-4.1 0l4.1 -4.1M435.0 139.3l4.1 4.1m-4.1 0l4.1 -4.1M433.9 122.1l4.1 4.1m-4.1 0l4.1 -4.1M421.9 131.3l4.1 4.1m-4.1 0l4.1 -4.1M442.8 121.6l4.1 4.1m-4.1 0l4.1 -4.1M423.1 133.7l4.1 4.1m-4.1 0l4.1 -4.1M424.2 128.2l4.1 4.1m-4.1 0l4.1 -4.1M425.3 125.6l4.1 4.1m-4.1 0l4.1 -4.1M425.3 139.4l4.1 4.1m-4.1 0l4.1 -4.1M436.6 137.9l4.1 4.1m-4.1 0l4.1 -4.1M429.0 122.9l4.1 4.1m-4.1 0l4.1 -4.1M428.8 141.2l4.1 4.1m-4.1 0l4.1 -4.1M441.6 117.5l4.1 4.1m-4.1 0l4.1 -4.1M440.3 121.2l4.1 4.1m-4.1 0l4.1 -4.1M427.1 139.9l4.1 4.1m-4.1 0l4.1 -4.1M432.6 133.8l4.1 4.1m-4.1 0l4.1 -4.1M427.8 134.1l4.1 4.1m-4.1 0l4.1 -4.1M437.4 126.1l4.1 4.1m-4.1 0l4.1 -4.1M429.5 139.0l4.1 4.1m-4.1 0l4.1 -4.1M438.2 124.3l4.1 4.1m-4.1 0l4.1 -4.1M433.3 126.5l4.1 4.1m-4.1 0l4.1 -4.1M431.4 138.4l4.1 4.1m-4.1 0l4.1 -4.1M434.5 135.4l4.1 4.1m-4.1 0l4.1 -4.1M435.3 125.9l4.1 4.1m-4.1 0l4.1 -4.1M428.6 132.3l4.1 4.1m-4.1 0l4.1 -4.1M435.1 134.7l4.1 4.1m-4.1 0l4.1 -4.1M437.6 128.2l4.1 4.1m-4.1 0l4.1 -4.1M432.3 132.5l4.1 4.1m-4.1 0l4.1 -4.1M440.1 126.1l4.1 4.1m-4.1 0l4.1 -4.1M433.5 125.2l4.1 4.1m-4.1 0l4.1 -4.1M430.9 137.3l4.1 4.1m-4.1 0l4.1 -4.1M440.8 123.8l4.1 4.1m-4.1 0l4.1 -4.1M426.1 129.9l4.1 4.1m-4.1 0l4.1 -4.1M435.8 131.3l4.1 4.1m-4.1 0l4.1 -4.1M430.6 131.3l4.1 4.1m-4.1 0l4.1 -4.1M431.7 124.7l4.1 4.1m-4.1 0l4.1 -4.1M434.0 133.6l4.1 4.1m-4.1 0l4.1 -4.1M440.0 125.2l4.1 4.1m-4.1 0l4.1 -4.1M427.9 131.1l4.1 4.1m-4.1 0l4.1 -4.1M436.9 130.4l4.1 4.1m-4.1 0l4.1 -4.1M429.5 129.0l4.1 4.1m-4.1 0l4.1 -4.1M430.8 125.0l4.1 4.1m-4.1 0l4.1 -4.1M430.5 124.0l4.1 4.1m-4.1 0l4.1 -4.1M435.1 136.7l4.1 4.1m-4.1 0l4.1 -4.1M436.6 123.7l4.1 4.1m-4.1 0l4.1 -4.1M428.3 135.2l4.1 4.1m-4.1 0l4.1 -4.1M434.0 128.3l4.1 4.1m-4.1 0l4.1 -4.1M434.2 135.6l4.1 4.1m-4.1 0l4.1 -4.1M433.3 128.9l4.1 4.1m-4.1 0l4.1 -4.1M437.4 133.0l4.1 4.1m-4.1 0l4.1 -4.1M424.5 128.3l4.1 4.1m-4.1 0l4.1 -4.1M431.6 127.5l4.1 4.1m-4.1 0l4.1 -4.1M426.5 131.2l4.1 4.1m-4.1 0l4.1 -4.1M428.6 131.9l4.1 4.1m-4.1 0l4.1 -4.1M428.4 136.7l4.1 4.1m-4.1 0l4.1 -4.1M433.3 127.5l4.1 4.1m-4.1 0l4.1 -4.1M434.7 126.4l4.1 4.1m-4.1 0l4.1 -4.1M425.8 132.8l4.1 4.1m-4.1 0l4.1 -4.1M429.4 131.2l4.1 4.1m-4.1 0l4.1 -4.1M435.6 133.9l4.1 4.1m-4.1 0l4.1 -4.1M429.1 131.4l4.1 4.1m-4.1 0l4.1 -4.1M437.8 127.5l4.1 4.1m-4.1 0l4.1 -4.1M442.4 119.5l4.1 4.1m-4.1 0l4.1 -4.1M429.1 125.1l4.1 4.1m-4.1 0l4.1 -4.1M430.3 133.2l4.1 4.1m-4.1 0l4.1 -4.1M427.8 127.2l4.1 4.1m-4.1 0l4.1 -4.1M430.3 140.6l4.1 4.1m-4.1 0l4.1 -4.1M431.8 138.5l4.1 4.1m-4.1 0l4.1 -4.1M438.3 125.8l4.1 4.1m-4.1 0l4.1 -4.1M425.5 131.3l4.1 4.1m-4.1 0l4.1 -4.1M428.8 125.2l4.1 4.1m-4.1 0l4.1 -4.1M423.3 132.3l4.1 4.1m-4.1 0l4.1 -4.1M434.9 122.9l4.1 4.1m-4.1 0l4.1 -4.1M430.1 129.8l4.1 4.1m-4.1 0l4.1 -4.1M441.8 121.9l4.1 4.1m-4.1 0l4.1 -4.1M427.9 143.6l4.1 4.1m-4.1 0l4.1 -4.1M446.0 116.4l4.1 4.1m-4.1 0l4.1 -4.1M429.5 144.8l4.1 4.1m-4.1 0l4.1 -4.1M426.4 143.2l4.1 4.1m-4.1 0l4.1 -4.1M432.2 142.9l4.1 4.1m-4.1 0l4.1 -4.1M445.1 119.1l4.1 4.1m-4.1 0l4.1 -4.1M421.9 126.4l4.1 4.1m-4.1 0l4.1 -4.1M426.0 121.4l4.1 4.1m-4.1 0l4.1 -4.1M440.5 135.0l4.1 4.1m-4.1 0l4.1 -4.1M441.0 116.2l4.1 4.1m-4.1 0l4.1 -4.1M441.6 133.9l4.1 4.1m-4.1 0l4.1 -4.1M442.8 126.9l4.1 4.1m-4.1 0l4.1 -4.1M430.1 119.2l4.1 4.1m-4.1 0l4.1 -4.1M424.4 139.2l4.1 4.1m-4.1 0l4.1 -4.1M434.1 118.9l4.1 4.1m-4.1 0l4.1 -4.1M443.1 127.9l4.1 4.1m-4.1 0l4.1 -4.1M438.4 120.2l4.1 4.1m-4.1 0l4.1 -4.1M416.1 137.0l4.1 4.1m-4.1 0l4.1 -4.1M407.6 143.9l4.1 4.1m-4.1 0l4.1 -4.1M402.1 147.2l4.1 4.1m-4.1 0l4.1 -4.1M415.6 149.1l4.1 4.1m-4.1 0l4.1 -4.1M403.6 162.5l4.1 4.1m-4.1 0l4.1 -4.1M422.1 142.9l4.1 4.1m-4.1 0l4.1 -4.1M425.6 147.6l4.1 4.1m-4.1 0l4.1 -4.1M430.6 144.8l4.1 4.1m-4.1 0l4.1 -4.1" stroke="#000" stroke-width="1.4" fill="none"/>
<path d="M293.4 248.8V324.4H361.7" fill="none" stroke="#000" stroke-width="1.6"/>
<path d="M293.4 324.4v2M325.6 324.4v2M361 324.4v2M293.4 249.4h-2.2M293.4 286.8h-2.2M293.4 324.4h-2.2" stroke="#000" stroke-width="1.1"/>
<text transform="translate(274.27 255.49) scale(0.876 1)" font-size="13.1">2.5</text>
<text transform="translate(284.90 291.59) scale(0.850 1)" font-size="13.1">0</text>
<text transform="translate(269.27 327.29) scale(0.928 1)" font-size="13.1">-2.5</text>
<text transform="translate(283.27 336.80) scale(0.928 1)" font-size="13.1">-2.5</text>
<text transform="translate(321.35 336.80) scale(0.850 1)" font-size="13.1">0</text>
<text transform="translate(353.17 336.80) scale(0.876 1)" font-size="13.1">2.5</text>
<text transform="translate(311.47 349.00) scale(0.874 1)" font-size="13.3">Trial 1</text>
<polygon points="343.7,261.0 336.1,262.7 330.0,266.6 323.8,273.0 318.1,279.2 312.5,287.1 309.8,296.5 311.1,304.3 316.4,306.2 324.1,302.3 332.0,297.4 337.3,291.0 342.1,284.8 346.9,277.1 349.1,268.5 347.9,262.0" fill="#000"/>
<path d="M313.7 303.5l4.1 4.1m-4.1 0l4.1 -4.1M333.3 291.3l4.1 4.1m-4.1 0l4.1 -4.1M336.8 287.4l4.1 4.1m-4.1 0l4.1 -4.1M346.8 268.6l4.1 4.1m-4.1 0l4.1 -4.1M322.4 300.9l4.1 4.1m-4.1 0l4.1 -4.1M321.2 301.0l4.1 4.1m-4.1 0l4.1 -4.1M345.9 260.0l4.1 4.1m-4.1 0l4.1 -4.1M347.4 265.4l4.1 4.1m-4.1 0l4.1 -4.1M345.0 272.7l4.1 4.1m-4.1 0l4.1 -4.1M323.0 300.7l4.1 4.1m-4.1 0l4.1 -4.1M318.1 302.3l4.1 4.1m-4.1 0l4.1 -4.1M339.6 282.6l4.1 4.1m-4.1 0l4.1 -4.1M319.3 272.4l4.1 4.1m-4.1 0l4.1 -4.1M318.9 271.9l4.1 4.1m-4.1 0l4.1 -4.1M307.5 298.6l4.1 4.1m-4.1 0l4.1 -4.1M346.1 267.7l4.1 4.1m-4.1 0l4.1 -4.1M312.1 304.0l4.1 4.1m-4.1 0l4.1 -4.1M331.7 263.1l4.1 4.1m-4.1 0l4.1 -4.1M308.5 296.9l4.1 4.1m-4.1 0l4.1 -4.1M322.7 268.0l4.1 4.1m-4.1 0l4.1 -4.1M345.1 271.6l4.1 4.1m-4.1 0l4.1 -4.1M338.8 286.4l4.1 4.1m-4.1 0l4.1 -4.1M309.6 286.6l4.1 4.1m-4.1 0l4.1 -4.1M316.4 276.5l4.1 4.1m-4.1 0l4.1 -4.1M331.2 295.4l4.1 4.1m-4.1 0l4.1 -4.1M344.2 277.4l4.1 4.1m-4.1 0l4.1 -4.1M334.9 291.3l4.1 4.1m-4.1 0l4.1 -4.1M308.7 291.6l4.1 4.1m-4.1 0l4.1 -4.1M338.1 260.0l4.1 4.1m-4.1 0l4.1 -4.1M345.6 270.3l4.1 4.1m-4.1 0l4.1 -4.1M343.0 277.3l4.1 4.1m-4.1 0l4.1 -4.1M323.1 300.5l4.1 4.1m-4.1 0l4.1 -4.1M322.4 270.5l4.1 4.1m-4.1 0l4.1 -4.1M336.4 287.9l4.1 4.1m-4.1 0l4.1 -4.1M344.0 276.9l4.1 4.1m-4.1 0l4.1 -4.1M336.4 259.9l4.1 4.1m-4.1 0l4.1 -4.1M340.9 280.8l4.1 4.1m-4.1 0l4.1 -4.1M339.7 258.5l4.1 4.1m-4.1 0l4.1 -4.1M338.0 286.5l4.1 4.1m-4.1 0l4.1 -4.1M339.0 285.4l4.1 4.1m-4.1 0l4.1 -4.1M307.1 298.7l4.1 4.1m-4.1 0l4.1 -4.1M325.9 265.8l4.1 4.1m-4.1 0l4.1 -4.1M335.5 289.5l4.1 4.1m-4.1 0l4.1 -4.1M338.5 258.8l4.1 4.1m-4.1 0l4.1 -4.1M343.0 278.2l4.1 4.1m-4.1 0l4.1 -4.1M346.3 266.3l4.1 4.1m-4.1 0l4.1 -4.1M316.1 277.1l4.1 4.1m-4.1 0l4.1 -4.1M331.5 293.4l4.1 4.1m-4.1 0l4.1 -4.1M320.2 270.7l4.1 4.1m-4.1 0l4.1 -4.1M333.0 261.4l4.1 4.1m-4.1 0l4.1 -4.1M323.2 299.9l4.1 4.1m-4.1 0l4.1 -4.1M336.1 260.6l4.1 4.1m-4.1 0l4.1 -4.1M337.5 288.7l4.1 4.1m-4.1 0l4.1 -4.1M308.7 299.7l4.1 4.1m-4.1 0l4.1 -4.1M344.3 259.2l4.1 4.1m-4.1 0l4.1 -4.1M309.2 288.6l4.1 4.1m-4.1 0l4.1 -4.1M347.5 268.1l4.1 4.1m-4.1 0l4.1 -4.1M345.2 270.0l4.1 4.1m-4.1 0l4.1 -4.1M310.8 303.5l4.1 4.1m-4.1 0l4.1 -4.1M342.1 280.6l4.1 4.1m-4.1 0l4.1 -4.1M337.4 259.5l4.1 4.1m-4.1 0l4.1 -4.1M308.2 292.5l4.1 4.1m-4.1 0l4.1 -4.1M323.8 298.9l4.1 4.1m-4.1 0l4.1 -4.1M320.1 302.1l4.1 4.1m-4.1 0l4.1 -4.1M334.7 259.8l4.1 4.1m-4.1 0l4.1 -4.1M328.2 263.5l4.1 4.1m-4.1 0l4.1 -4.1M338.3 285.9l4.1 4.1m-4.1 0l4.1 -4.1M320.2 301.4l4.1 4.1m-4.1 0l4.1 -4.1M322.7 267.8l4.1 4.1m-4.1 0l4.1 -4.1M323.1 268.2l4.1 4.1m-4.1 0l4.1 -4.1M343.7 277.9l4.1 4.1m-4.1 0l4.1 -4.1M324.1 266.7l4.1 4.1m-4.1 0l4.1 -4.1M318.2 275.1l4.1 4.1m-4.1 0l4.1 -4.1M319.3 273.4l4.1 4.1m-4.1 0l4.1 -4.1M316.6 275.9l4.1 4.1m-4.1 0l4.1 -4.1M309.5 290.8l4.1 4.1m-4.1 0l4.1 -4.1M318.9 271.7l4.1 4.1m-4.1 0l4.1 -4.1M307.6 291.7l4.1 4.1m-4.1 0l4.1 -4.1M320.8 270.1l4.1 4.1m-4.1 0l4.1 -4.1M331.8 293.5l4.1 4.1m-4.1 0l4.1 -4.1M317.5 302.6l4.1 4.1m-4.1 0l4.1 -4.1M313.5 279.2l4.1 4.1m-4.1 0l4.1 -4.1M333.4 292.4l4.1 4.1m-4.1 0l4.1 -4.1M308.3 292.4l4.1 4.1m-4.1 0l4.1 -4.1M324.7 298.0l4.1 4.1m-4.1 0l4.1 -4.1M340.5 282.0l4.1 4.1m-4.1 0l4.1 -4.1M331.3 293.1l4.1 4.1m-4.1 0l4.1 -4.1M314.2 303.6l4.1 4.1m-4.1 0l4.1 -4.1M311.0 285.5l4.1 4.1m-4.1 0l4.1 -4.1M339.8 259.0l4.1 4.1m-4.1 0l4.1 -4.1M336.8 287.8l4.1 4.1m-4.1 0l4.1 -4.1M316.8 276.6l4.1 4.1m-4.1 0l4.1 -4.1M347.4 263.9l4.1 4.1m-4.1 0l4.1 -4.1M308.9 292.4l4.1 4.1m-4.1 0l4.1 -4.1M334.7 291.2l4.1 4.1m-4.1 0l4.1 -4.1M336.1 288.6l4.1 4.1m-4.1 0l4.1 -4.1M313.9 303.3l4.1 4.1m-4.1 0l4.1 -4.1M309.9 286.1l4.1 4.1m-4.1 0l4.1 -4.1M343.4 258.8l4.1 4.1m-4.1 0l4.1 -4.1M346.7 270.7l4.1 4.1m-4.1 0l4.1 -4.1M319.2 301.5l4.1 4.1m-4.1 0l4.1 -4.1M307.3 293.3l4.1 4.1m-4.1 0l4.1 -4.1M308.9 298.5l4.1 4.1m-4.1 0l4.1 -4.1M328.8 295.7l4.1 4.1m-4.1 0l4.1 -4.1M322.5 299.7l4.1 4.1m-4.1 0l4.1 -4.1M307.7 297.0l4.1 4.1m-4.1 0l4.1 -4.1M335.5 288.7l4.1 4.1m-4.1 0l4.1 -4.1M346.2 268.2l4.1 4.1m-4.1 0l4.1 -4.1M308.1 302.9l4.1 4.1m-4.1 0l4.1 -4.1M347.3 261.3l4.1 4.1m-4.1 0l4.1 -4.1M309.0 291.9l4.1 4.1m-4.1 0l4.1 -4.1M313.5 279.5l4.1 4.1m-4.1 0l4.1 -4.1M335.8 260.9l4.1 4.1m-4.1 0l4.1 -4.1M328.2 263.7l4.1 4.1m-4.1 0l4.1 -4.1M341.3 258.0l4.1 4.1m-4.1 0l4.1 -4.1M309.1 300.9l4.1 4.1m-4.1 0l4.1 -4.1M311.2 285.1l4.1 4.1m-4.1 0l4.1 -4.1M347.8 266.1l4.1 4.1m-4.1 0l4.1 -4.1M346.9 266.4l4.1 4.1m-4.1 0l4.1 -4.1M347.5 266.9l4.1 4.1m-4.1 0l4.1 -4.1M327.3 298.0l4.1 4.1m-4.1 0l4.1 -4.1M333.8 262.0l4.1 4.1m-4.1 0l4.1 -4.1M319.7 301.9l4.1 4.1m-4.1 0l4.1 -4.1M323.3 299.1l4.1 4.1m-4.1 0l4.1 -4.1M346.1 274.3l4.1 4.1m-4.1 0l4.1 -4.1M333.8 290.6l4.1 4.1m-4.1 0l4.1 -4.1M318.9 272.2l4.1 4.1m-4.1 0l4.1 -4.1M341.5 280.4l4.1 4.1m-4.1 0l4.1 -4.1M344.1 274.2l4.1 4.1m-4.1 0l4.1 -4.1M335.7 291.0l4.1 4.1m-4.1 0l4.1 -4.1M308.4 287.9l4.1 4.1m-4.1 0l4.1 -4.1M346.8 263.5l4.1 4.1m-4.1 0l4.1 -4.1M318.4 301.8l4.1 4.1m-4.1 0l4.1 -4.1M330.4 294.4l4.1 4.1m-4.1 0l4.1 -4.1M322.7 270.3l4.1 4.1m-4.1 0l4.1 -4.1M309.6 287.9l4.1 4.1m-4.1 0l4.1 -4.1M330.5 262.8l4.1 4.1m-4.1 0l4.1 -4.1M311.8 282.2l4.1 4.1m-4.1 0l4.1 -4.1M335.9 290.5l4.1 4.1m-4.1 0l4.1 -4.1M309.3 288.1l4.1 4.1m-4.1 0l4.1 -4.1M319.5 301.0l4.1 4.1m-4.1 0l4.1 -4.1M339.8 285.1l4.1 4.1m-4.1 0l4.1 -4.1M342.0 259.8l4.1 4.1m-4.1 0l4.1 -4.1M346.9 266.6l4.1 4.1m-4.1 0l4.1 -4.1M306.6 296.2l4.1 4.1m-4.1 0l4.1 -4.1M307.7 300.2l4.1 4.1m-4.1 0l4.1 -4.1M320.6 301.8l4.1 4.1m-4.1 0l4.1 -4.1M346.2 266.0l4.1 4.1m-4.1 0l4.1 -4.1M316.6 275.8l4.1 4.1m-4.1 0l4.1 -4.1M341.7 280.1l4.1 4.1m-4.1 0l4.1 -4.1M313.6 304.2l4.1 4.1m-4.1 0l4.1 -4.1M307.7 294.6l4.1 4.1m-4.1 0l4.1 -4.1M333.2 261.6l4.1 4.1m-4.1 0l4.1 -4.1M321.8 300.5l4.1 4.1m-4.1 0l4.1 -4.1M308.4 300.2l4.1 4.1m-4.1 0l4.1 -4.1M320.0 300.9l4.1 4.1m-4.1 0l4.1 -4.1M332.2 293.8l4.1 4.1m-4.1 0l4.1 -4.1M321.6 300.8l4.1 4.1m-4.1 0l4.1 -4.1M316.2 302.4l4.1 4.1m-4.1 0l4.1 -4.1M308.3 302.0l4.1 4.1m-4.1 0l4.1 -4.1M341.4 282.8l4.1 4.1m-4.1 0l4.1 -4.1M345.3 272.9l4.1 4.1m-4.1 0l4.1 -4.1M346.3 273.5l4.1 4.1m-4.1 0l4.1 -4.1M310.6 284.6l4.1 4.1m-4.1 0l4.1 -4.1M314.7 279.5l4.1 4.1m-4.1 0l4.1 -4.1M338.0 287.9l4.1 4.1m-4.1 0l4.1 -4.1M346.4 267.9l4.1 4.1m-4.1 0l4.1 -4.1M337.4 288.7l4.1 4.1m-4.1 0l4.1 -4.1M312.2 280.3l4.1 4.1m-4.1 0l4.1 -4.1M333.5 291.0l4.1 4.1m-4.1 0l4.1 -4.1M343.3 277.4l4.1 4.1m-4.1 0l4.1 -4.1M320.2 270.1l4.1 4.1m-4.1 0l4.1 -4.1M309.2 286.3l4.1 4.1m-4.1 0l4.1 -4.1M316.2 276.0l4.1 4.1m-4.1 0l4.1 -4.1M342.8 276.9l4.1 4.1m-4.1 0l4.1 -4.1M309.7 289.9l4.1 4.1m-4.1 0l4.1 -4.1M308.4 288.4l4.1 4.1m-4.1 0l4.1 -4.1M312.8 304.7l4.1 4.1m-4.1 0l4.1 -4.1M308.0 291.7l4.1 4.1m-4.1 0l4.1 -4.1M308.6 300.1l4.1 4.1m-4.1 0l4.1 -4.1M327.3 264.2l4.1 4.1m-4.1 0l4.1 -4.1M320.9 271.3l4.1 4.1m-4.1 0l4.1 -4.1M340.0 259.3l4.1 4.1m-4.1 0l4.1 -4.1M308.2 299.7l4.1 4.1m-4.1 0l4.1 -4.1M333.0 293.1l4.1 4.1m-4.1 0l4.1 -4.1M308.6 294.5l4.1 4.1m-4.1 0l4.1 -4.1M313.3 304.1l4.1 4.1m-4.1 0l4.1 -4.1M313.2 280.2l4.1 4.1m-4.1 0l4.1 -4.1M325.7 299.4l4.1 4.1m-4.1 0l4.1 -4.1M329.3 262.8l4.1 4.1m-4.1 0l4.1 -4.1M316.9 276.2l4.1 4.1m-4.1 0l4.1 -4.1M309.8 284.5l4.1 4.1m-4.1 0l4.1 -4.1M334.3 259.7l4.1 4.1m-4.1 0l4.1 -4.1M345.5 258.9l4.1 4.1m-4.1 0l4.1 -4.1M311.1 285.0l4.1 4.1m-4.1 0l4.1 -4.1M342.3 280.8l4.1 4.1m-4.1 0l4.1 -4.1M308.9 292.8l4.1 4.1m-4.1 0l4.1 -4.1M319.6 273.0l4.1 4.1m-4.1 0l4.1 -4.1M312.4 281.5l4.1 4.1m-4.1 0l4.1 -4.1M309.4 291.8l4.1 4.1m-4.1 0l4.1 -4.1M307.3 293.9l4.1 4.1m-4.1 0l4.1 -4.1M308.6 288.5l4.1 4.1m-4.1 0l4.1 -4.1M317.6 274.0l4.1 4.1m-4.1 0l4.1 -4.1M308.8 298.7l4.1 4.1m-4.1 0l4.1 -4.1M325.5 298.5l4.1 4.1m-4.1 0l4.1 -4.1M326.0 298.2l4.1 4.1m-4.1 0l4.1 -4.1M321.3 299.9l4.1 4.1m-4.1 0l4.1 -4.1M323.4 268.5l4.1 4.1m-4.1 0l4.1 -4.1M334.8 261.0l4.1 4.1m-4.1 0l4.1 -4.1M347.6 262.9l4.1 4.1m-4.1 0l4.1 -4.1M341.7 259.6l4.1 4.1m-4.1 0l4.1 -4.1M317.5 301.5l4.1 4.1m-4.1 0l4.1 -4.1M331.7 293.2l4.1 4.1m-4.1 0l4.1 -4.1M327.1 298.3l4.1 4.1m-4.1 0l4.1 -4.1M341.8 278.8l4.1 4.1m-4.1 0l4.1 -4.1M312.6 281.3l4.1 4.1m-4.1 0l4.1 -4.1M316.3 302.1l4.1 4.1m-4.1 0l4.1 -4.1M309.9 303.4l4.1 4.1m-4.1 0l4.1 -4.1M308.9 293.4l4.1 4.1m-4.1 0l4.1 -4.1M330.0 295.5l4.1 4.1m-4.1 0l4.1 -4.1M343.4 267.4l4.1 4.1m-4.1 0l4.1 -4.1M331.7 279.6l4.1 4.1m-4.1 0l4.1 -4.1M332.4 266.2l4.1 4.1m-4.1 0l4.1 -4.1M343.3 263.0l4.1 4.1m-4.1 0l4.1 -4.1M343.9 268.6l4.1 4.1m-4.1 0l4.1 -4.1M333.3 268.1l4.1 4.1m-4.1 0l4.1 -4.1M323.2 288.4l4.1 4.1m-4.1 0l4.1 -4.1M343.4 271.2l4.1 4.1m-4.1 0l4.1 -4.1M316.0 284.7l4.1 4.1m-4.1 0l4.1 -4.1M335.6 283.6l4.1 4.1m-4.1 0l4.1 -4.1M321.3 277.7l4.1 4.1m-4.1 0l4.1 -4.1M337.9 269.6l4.1 4.1m-4.1 0l4.1 -4.1M329.3 291.1l4.1 4.1m-4.1 0l4.1 -4.1M336.0 261.2l4.1 4.1m-4.1 0l4.1 -4.1M321.6 296.6l4.1 4.1m-4.1 0l4.1 -4.1M331.6 265.3l4.1 4.1m-4.1 0l4.1 -4.1M339.2 281.6l4.1 4.1m-4.1 0l4.1 -4.1M310.0 297.5l4.1 4.1m-4.1 0l4.1 -4.1M323.0 278.7l4.1 4.1m-4.1 0l4.1 -4.1M334.9 282.8l4.1 4.1m-4.1 0l4.1 -4.1M328.6 285.9l4.1 4.1m-4.1 0l4.1 -4.1M328.2 265.6l4.1 4.1m-4.1 0l4.1 -4.1M332.8 263.4l4.1 4.1m-4.1 0l4.1 -4.1M344.5 272.2l4.1 4.1m-4.1 0l4.1 -4.1M309.9 297.6l4.1 4.1m-4.1 0l4.1 -4.1M335.1 267.6l4.1 4.1m-4.1 0l4.1 -4.1M334.5 271.4l4.1 4.1m-4.1 0l4.1 -4.1M312.8 302.0l4.1 4.1m-4.1 0l4.1 -4.1M331.5 290.9l4.1 4.1m-4.1 0l4.1 -4.1M323.3 294.7l4.1 4.1m-4.1 0l4.1 -4.1M335.9 265.2l4.1 4.1m-4.1 0l4.1 -4.1M329.4 289.3l4.1 4.1m-4.1 0l4.1 -4.1M310.4 295.0l4.1 4.1m-4.1 0l4.1 -4.1M331.3 267.6l4.1 4.1m-4.1 0l4.1 -4.1M340.2 275.2l4.1 4.1m-4.1 0l4.1 -4.1M336.9 280.8l4.1 4.1m-4.1 0l4.1 -4.1M332.1 271.0l4.1 4.1m-4.1 0l4.1 -4.1M326.3 267.9l4.1 4.1m-4.1 0l4.1 -4.1M327.1 290.8l4.1 4.1m-4.1 0l4.1 -4.1M329.4 280.2l4.1 4.1m-4.1 0l4.1 -4.1M342.5 264.6l4.1 4.1m-4.1 0l4.1 -4.1M322.8 273.9l4.1 4.1m-4.1 0l4.1 -4.1M312.1 298.4l4.1 4.1m-4.1 0l4.1 -4.1M309.1 295.2l4.1 4.1m-4.1 0l4.1 -4.1M329.6 273.9l4.1 4.1m-4.1 0l4.1 -4.1M329.1 292.7l4.1 4.1m-4.1 0l4.1 -4.1M312.6 292.6l4.1 4.1m-4.1 0l4.1 -4.1M318.2 288.5l4.1 4.1m-4.1 0l4.1 -4.1M324.7 290.4l4.1 4.1m-4.1 0l4.1 -4.1M311.3 296.3l4.1 4.1m-4.1 0l4.1 -4.1M333.5 284.6l4.1 4.1m-4.1 0l4.1 -4.1M316.9 295.6l4.1 4.1m-4.1 0l4.1 -4.1M323.1 272.4l4.1 4.1m-4.1 0l4.1 -4.1M321.1 274.4l4.1 4.1m-4.1 0l4.1 -4.1M315.5 280.4l4.1 4.1m-4.1 0l4.1 -4.1M312.4 286.1l4.1 4.1m-4.1 0l4.1 -4.1M323.7 278.8l4.1 4.1m-4.1 0l4.1 -4.1M337.8 266.8l4.1 4.1m-4.1 0l4.1 -4.1M331.5 267.2l4.1 4.1m-4.1 0l4.1 -4.1M333.9 270.2l4.1 4.1m-4.1 0l4.1 -4.1M312.6 293.3l4.1 4.1m-4.1 0l4.1 -4.1M314.5 298.6l4.1 4.1m-4.1 0l4.1 -4.1M321.9 295.1l4.1 4.1m-4.1 0l4.1 -4.1M339.7 265.4l4.1 4.1m-4.1 0l4.1 -4.1M312.4 302.2l4.1 4.1m-4.1 0l4.1 -4.1M334.6 270.7l4.1 4.1m-4.1 0l4.1 -4.1M338.9 281.3l4.1 4.1m-4.1 0l4.1 -4.1M336.0 279.6l4.1 4.1m-4.1 0l4.1 -4.1M309.6 295.9l4.1 4.1m-4.1 0l4.1 -4.1M320.1 298.1l4.1 4.1m-4.1 0l4.1 -4.1M330.6 289.6l4.1 4.1m-4.1 0l4.1 -4.1M314.2 290.6l4.1 4.1m-4.1 0l4.1 -4.1M323.2 289.0l4.1 4.1m-4.1 0l4.1 -4.1M337.4 270.5l4.1 4.1m-4.1 0l4.1 -4.1M336.2 282.8l4.1 4.1m-4.1 0l4.1 -4.1M340.3 269.5l4.1 4.1m-4.1 0l4.1 -4.1M334.0 266.0l4.1 4.1m-4.1 0l4.1 -4.1M342.6 267.9l4.1 4.1m-4.1 0l4.1 -4.1M327.6 266.6l4.1 4.1m-4.1 0l4.1 -4.1M336.4 275.2l4.1 4.1m-4.1 0l4.1 -4.1M327.4 269.8l4.1 4.1m-4.1 0l4.1 -4.1M309.9 297.1l4.1 4.1m-4.1 0l4.1 -4.1M321.1 283.3l4.1 4.1m-4.1 0l4.1 -4.1M337.3 261.5l4.1 4.1m-4.1 0l4.1 -4.1M321.6 277.4l4.1 4.1m-4.1 0l4.1 -4.1M327.7 281.2l4.1 4.1m-4.1 0l4.1 -4.1M328.6 271.2l4.1 4.1m-4.1 0l4.1 -4.1M329.4 293.8l4.1 4.1m-4.1 0l4.1 -4.1M326.4 295.4l4.1 4.1m-4.1 0l4.1 -4.1M339.7 276.9l4.1 4.1m-4.1 0l4.1 -4.1M320.1 295.4l4.1 4.1m-4.1 0l4.1 -4.1M332.0 276.6l4.1 4.1m-4.1 0l4.1 -4.1M332.3 286.8l4.1 4.1m-4.1 0l4.1 -4.1M321.5 290.9l4.1 4.1m-4.1 0l4.1 -4.1M323.5 275.3l4.1 4.1m-4.1 0l4.1 -4.1M328.0 282.2l4.1 4.1m-4.1 0l4.1 -4.1M323.4 288.6l4.1 4.1m-4.1 0l4.1 -4.1M326.2 286.4l4.1 4.1m-4.1 0l4.1 -4.1M311.6 301.2l4.1 4.1m-4.1 0l4.1 -4.1M319.5 298.5l4.1 4.1m-4.1 0l4.1 -4.1M342.8 262.3l4.1 4.1m-4.1 0l4.1 -4.1M324.5 284.6l4.1 4.1m-4.1 0l4.1 -4.1M326.0 275.1l4.1 4.1m-4.1 0l4.1 -4.1M343.0 261.6l4.1 4.1m-4.1 0l4.1 -4.1M343.2 261.1l4.1 4.1m-4.1 0l4.1 -4.1M320.5 294.9l4.1 4.1m-4.1 0l4.1 -4.1M334.0 263.3l4.1 4.1m-4.1 0l4.1 -4.1M334.6 284.5l4.1 4.1m-4.1 0l4.1 -4.1M331.5 282.3l4.1 4.1m-4.1 0l4.1 -4.1M330.4 293.5l4.1 4.1m-4.1 0l4.1 -4.1M320.2 276.1l4.1 4.1m-4.1 0l4.1 -4.1M328.9 279.6l4.1 4.1m-4.1 0l4.1 -4.1M335.0 276.8l4.1 4.1m-4.1 0l4.1 -4.1M328.2 281.3l4.1 4.1m-4.1 0l4.1 -4.1M322.7 296.6l4.1 4.1m-4.1 0l4.1 -4.1M329.4 291.9l4.1 4.1m-4.1 0l4.1 -4.1M316.5 300.4l4.1 4.1m-4.1 0l4.1 -4.1M333.2 287.5l4.1 4.1m-4.1 0l4.1 -4.1M336.7 267.5l4.1 4.1m-4.1 0l4.1 -4.1M326.0 277.1l4.1 4.1m-4.1 0l4.1 -4.1M336.7 289.9l4.1 4.1m-4.1 0l4.1 -4.1M340.0 285.7l4.1 4.1m-4.1 0l4.1 -4.1M308.4 287.5l4.1 4.1m-4.1 0l4.1 -4.1M321.2 268.4l4.1 4.1m-4.1 0l4.1 -4.1M319.7 303.7l4.1 4.1m-4.1 0l4.1 -4.1M309.6 283.5l4.1 4.1m-4.1 0l4.1 -4.1M348.7 259.4l4.1 4.1m-4.1 0l4.1 -4.1M347.8 274.7l4.1 4.1m-4.1 0l4.1 -4.1M330.9 260.1l4.1 4.1m-4.1 0l4.1 -4.1M308.7 304.7l4.1 4.1m-4.1 0l4.1 -4.1M318.5 269.8l4.1 4.1m-4.1 0l4.1 -4.1M312.3 276.3l4.1 4.1m-4.1 0l4.1 -4.1M349.1 270.4l4.1 4.1m-4.1 0l4.1 -4.1M334.1 295.3l4.1 4.1m-4.1 0l4.1 -4.1M343.1 283.0l4.1 4.1m-4.1 0l4.1 -4.1M345.0 280.2l4.1 4.1m-4.1 0l4.1 -4.1M349.2 264.7l4.1 4.1m-4.1 0l4.1 -4.1M348.7 262.3l4.1 4.1m-4.1 0l4.1 -4.1M339.5 289.1l4.1 4.1m-4.1 0l4.1 -4.1M310.8 281.4l4.1 4.1m-4.1 0l4.1 -4.1M322.0 265.9l4.1 4.1m-4.1 0l4.1 -4.1M342.9 283.2l4.1 4.1m-4.1 0l4.1 -4.1M320.2 303.9l4.1 4.1m-4.1 0l4.1 -4.1M338.2 256.8l4.1 4.1m-4.1 0l4.1 -4.1M314.2 304.6l4.1 4.1m-4.1 0l4.1 -4.1M338.7 257.6l4.1 4.1m-4.1 0l4.1 -4.1M338.0 290.8l4.1 4.1m-4.1 0l4.1 -4.1M334.1 259.4l4.1 4.1m-4.1 0l4.1 -4.1M334.7 293.7l4.1 4.1m-4.1 0l4.1 -4.1M317.6 272.3l4.1 4.1m-4.1 0l4.1 -4.1M332.5 297.0l4.1 4.1m-4.1 0l4.1 -4.1M347.1 247.8l4.1 4.1m-4.1 0l4.1 -4.1M343.4 251.2l4.1 4.1m-4.1 0l4.1 -4.1M343.8 250.9l4.1 4.1m-4.1 0l4.1 -4.1M348.2 253.6l4.1 4.1m-4.1 0l4.1 -4.1M333.9 253.6l4.1 4.1m-4.1 0l4.1 -4.1M351.3 275.1l4.1 4.1m-4.1 0l4.1 -4.1M313.8 273.4l4.1 4.1m-4.1 0l4.1 -4.1M299.9 283.4l4.1 4.1m-4.1 0l4.1 -4.1M344.2 288.1l4.1 4.1m-4.1 0l4.1 -4.1M337.6 295.8l4.1 4.1m-4.1 0l4.1 -4.1M325.6 306.1l4.1 4.1m-4.1 0l4.1 -4.1M318.1 307.8l4.1 4.1m-4.1 0l4.1 -4.1M318.6 307.4l4.1 4.1m-4.1 0l4.1 -4.1M299.4 310.8l4.1 4.1m-4.1 0l4.1 -4.1M299.9 310.6l4.1 4.1m-4.1 0l4.1 -4.1M306.1 313.1l4.1 4.1m-4.1 0l4.1 -4.1M313.8 315.1l4.1 4.1m-4.1 0l4.1 -4.1M306.1 319.6l4.1 4.1m-4.1 0l4.1 -4.1" stroke="#000" stroke-width="1.4" fill="none"/>
</svg></body></html>
